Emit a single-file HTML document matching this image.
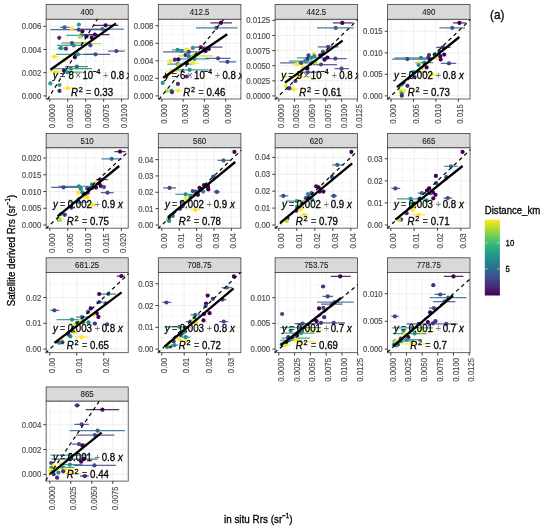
<!DOCTYPE html>
<html lang="en"><head><meta charset="utf-8"><title>Rrs matchups (a)</title>
<style>html,body{margin:0;padding:0;background:#fff}svg{display:block;will-change:transform}text{stroke-width:0.3px}text.k{stroke:#000}text.s{stroke:#1A1A1A;stroke-width:0.1px}text.g{stroke:#4D4D4D;stroke-width:0.18px}text.eq,text.sci{white-space:pre}</style></head>
<body>
<svg width="550" height="532" viewBox="0 0 550 532" font-family="Liberation Sans, Arial, sans-serif">
<defs><linearGradient id="vir" x1="0" y1="1" x2="0" y2="0">
<stop offset="0" stop-color="#440154"/>
<stop offset="0.11" stop-color="#482878"/>
<stop offset="0.22" stop-color="#3E4A89"/>
<stop offset="0.33" stop-color="#31688E"/>
<stop offset="0.44" stop-color="#26828E"/>
<stop offset="0.56" stop-color="#1F9E89"/>
<stop offset="0.67" stop-color="#35B779"/>
<stop offset="0.78" stop-color="#6DCD59"/>
<stop offset="0.89" stop-color="#B4DE2C"/>
<stop offset="1" stop-color="#FDE725"/>
</linearGradient>
<clipPath id="c0"><rect x="45.45" y="18.6" width="83.45" height="81.1"/></clipPath>
<clipPath id="c1"><rect x="157.6" y="18.6" width="84" height="81.1"/></clipPath>
<clipPath id="c2"><rect x="274.4" y="18.6" width="83.8" height="81.1"/></clipPath>
<clipPath id="c3"><rect x="386.9" y="18.6" width="83.8" height="81.1"/></clipPath>
<clipPath id="c4"><rect x="45.45" y="147.15" width="83.45" height="81.7"/></clipPath>
<clipPath id="c5"><rect x="157.6" y="147.15" width="84" height="81.7"/></clipPath>
<clipPath id="c6"><rect x="274.4" y="147.15" width="83.8" height="81.7"/></clipPath>
<clipPath id="c7"><rect x="386.9" y="147.15" width="83.8" height="81.7"/></clipPath>
<clipPath id="c8"><rect x="45.45" y="271.7" width="83.45" height="81.7"/></clipPath>
<clipPath id="c9"><rect x="157.6" y="271.7" width="84" height="81.7"/></clipPath>
<clipPath id="c10"><rect x="274.4" y="271.7" width="83.8" height="81.7"/></clipPath>
<clipPath id="c11"><rect x="386.9" y="271.7" width="83.8" height="81.7"/></clipPath>
<clipPath id="c12"><rect x="45.45" y="400.5" width="83.45" height="81.3"/></clipPath>
</defs>
<rect width="550" height="532" fill="#fff"/>
<rect x="46.15" y="4.5" width="82.05" height="14.8" fill="#D9D9D9" stroke="#333" stroke-width="0.75"/>
<text class="s" transform="translate(87.17 15.1) scale(0.9091 1)" font-size="8.69" fill="#1A1A1A" text-anchor="middle">400</text>
<rect x="46.15" y="19.3" width="82.05" height="79.7" fill="#fff"/>
<path d="M58.77 19.3V99" stroke="#EBEBEB" stroke-width="0.4"/><path d="M76.72 19.3V99" stroke="#EBEBEB" stroke-width="0.4"/><path d="M94.67 19.3V99" stroke="#EBEBEB" stroke-width="0.4"/><path d="M112.62 19.3V99" stroke="#EBEBEB" stroke-width="0.4"/><path d="M46.15 84.3H128.2" stroke="#EBEBEB" stroke-width="0.4"/><path d="M46.15 61.1H128.2" stroke="#EBEBEB" stroke-width="0.4"/><path d="M46.15 37.9H128.2" stroke="#EBEBEB" stroke-width="0.4"/><path d="M49.8 19.3V99" stroke="#EBEBEB" stroke-width="0.8"/><path d="M67.75 19.3V99" stroke="#EBEBEB" stroke-width="0.8"/><path d="M85.7 19.3V99" stroke="#EBEBEB" stroke-width="0.8"/><path d="M103.65 19.3V99" stroke="#EBEBEB" stroke-width="0.8"/><path d="M121.6 19.3V99" stroke="#EBEBEB" stroke-width="0.8"/><path d="M46.15 95.9H128.2" stroke="#EBEBEB" stroke-width="0.8"/><path d="M46.15 72.7H128.2" stroke="#EBEBEB" stroke-width="0.8"/><path d="M46.15 49.5H128.2" stroke="#EBEBEB" stroke-width="0.8"/><path d="M46.15 26.3H128.2" stroke="#EBEBEB" stroke-width="0.8"/>
<g clip-path="url(#c0)">
<path d="M60 27.4H69.6" stroke="#31688E" stroke-width="1.25" stroke-opacity="0.85"/>
<path d="M69.6 28.52H74.72" stroke="#FDE725" stroke-width="1.25" stroke-opacity="0.85"/>
<path d="M93.6 25.32H118.4" stroke="#440154" stroke-width="1.25" stroke-opacity="0.85"/>
<path d="M80.8 29H124" stroke="#31688E" stroke-width="1.25" stroke-opacity="0.85"/>
<path d="M50.4 29.64H108" stroke="#3E4A89" stroke-width="1.25" stroke-opacity="0.85"/>
<path d="M82.4 34.6H109.6" stroke="#440154" stroke-width="1.25" stroke-opacity="0.85"/>
<path d="M66.4 35.4H96.8" stroke="#21908C" stroke-width="1.25" stroke-opacity="0.85"/>
<path d="M61.6 43.08H84" stroke="#3E4A89" stroke-width="1.25" stroke-opacity="0.85"/>
<path d="M61.6 43.72H101.6" stroke="#B4DE2C" stroke-width="1.25" stroke-opacity="0.85"/>
<path d="M56.8 45.48H84" stroke="#21908C" stroke-width="1.25" stroke-opacity="0.85"/>
<path d="M57.6 48.2H64.8" stroke="#21908C" stroke-width="1.25" stroke-opacity="0.85"/>
<path d="M108 51.08H124.8" stroke="#3E4A89" stroke-width="1.25" stroke-opacity="0.85"/>
<path d="M51.2 56.68H58.4" stroke="#FDE725" stroke-width="1.25" stroke-opacity="0.85"/>
<path d="M56 54.28H96.8" stroke="#21908C" stroke-width="1.25" stroke-opacity="0.85"/>
<path d="M84 54.28H110.4" stroke="#3E4A89" stroke-width="1.25" stroke-opacity="0.85"/>
<path d="M66.88 69H87.84" stroke="#FDE725" stroke-width="1.25" stroke-opacity="0.85"/>
<path d="M64.8 66.6H88" stroke="#31688E" stroke-width="1.25" stroke-opacity="0.85"/>
<path d="M52 68.52H92" stroke="#21908C" stroke-width="1.25" stroke-opacity="0.85"/>
<path d="M50.08 71.4H62.4" stroke="#FDE725" stroke-width="1.25" stroke-opacity="0.85"/>
<path d="M67.2 72.2H82.4" stroke="#21908C" stroke-width="1.25" stroke-opacity="0.85"/>
<path d="M60.8 88.2H74.4" stroke="#FDE725" stroke-width="1.25" stroke-opacity="0.85"/>
<circle cx="64.48" cy="27.4" r="2.1" fill="#31688E"/>
<circle cx="72" cy="28.52" r="2.1" fill="#FDE725"/>
<circle cx="78.88" cy="24.52" r="2.1" fill="#1F9E89"/>
<circle cx="105.6" cy="25.32" r="2.1" fill="#440154"/>
<circle cx="102.4" cy="29" r="2.1" fill="#31688E"/>
<circle cx="78.72" cy="29.64" r="2.1" fill="#3E4A89"/>
<circle cx="82.4" cy="31.4" r="2.1" fill="#440154"/>
<circle cx="94.88" cy="34.6" r="2.1" fill="#440154"/>
<circle cx="81.12" cy="35.4" r="2.1" fill="#21908C"/>
<circle cx="59.2" cy="37.8" r="2.1" fill="#472D7B"/>
<circle cx="80" cy="37" r="2.1" fill="#B4DE2C"/>
<circle cx="86.4" cy="36.52" r="2.1" fill="#440154"/>
<circle cx="91.68" cy="37.8" r="2.1" fill="#440154"/>
<circle cx="72" cy="43.08" r="2.1" fill="#3E4A89"/>
<circle cx="85.92" cy="43.72" r="2.1" fill="#B4DE2C"/>
<circle cx="73.6" cy="45.48" r="2.1" fill="#21908C"/>
<circle cx="90.4" cy="45.32" r="2.1" fill="#3E4A89"/>
<circle cx="60.8" cy="48.2" r="2.1" fill="#21908C"/>
<circle cx="65.92" cy="48.68" r="2.1" fill="#453781"/>
<circle cx="116.32" cy="51.08" r="2.1" fill="#3E4A89"/>
<circle cx="54.4" cy="56.68" r="2.1" fill="#FDE725"/>
<circle cx="77.92" cy="54.28" r="2.1" fill="#21908C"/>
<circle cx="95.52" cy="54.28" r="2.1" fill="#3E4A89"/>
<circle cx="74.88" cy="57.32" r="2.1" fill="#440154"/>
<circle cx="64" cy="60.2" r="2.1" fill="#FDE725"/>
<circle cx="71.52" cy="69" r="2.1" fill="#FDE725"/>
<circle cx="76.8" cy="66.6" r="2.1" fill="#31688E"/>
<circle cx="70.88" cy="68.52" r="2.1" fill="#21908C"/>
<circle cx="64" cy="70.6" r="2.1" fill="#440154"/>
<circle cx="55.04" cy="71.4" r="2.1" fill="#FDE725"/>
<circle cx="67.2" cy="72.2" r="2.1" fill="#21908C"/>
<circle cx="50.4" cy="83.4" r="2.1" fill="#1F9E89"/>
<circle cx="59.52" cy="85" r="2.1" fill="#1F9E89"/>
<circle cx="59.52" cy="90.92" r="2.1" fill="#472D7B"/>
<circle cx="67.68" cy="88.2" r="2.1" fill="#FDE725"/>
<path d="M47.45 99.7L97.65 18.6" stroke="#000" stroke-width="1.2" stroke-dasharray="3.8 3.3" fill="none"/>
<path d="M50.4 69.8L116 23.4" stroke="#000" stroke-width="2.3" fill="none"/>
<text class="k eq" transform="translate(92.32 78.6) scale(0.9091 1)" font-size="10.67" fill="#000" text-anchor="middle"><tspan font-style="italic">y</tspan><tspan dx="-0.66" fill="#3a3a3a" stroke="none"> =</tspan><tspan dx="0.22"> 8</tspan><tspan dx="-1.43" fill="#555" stroke="none"> ×</tspan><tspan dx="-1.32"> 10</tspan><tspan font-size="7.59" dy="-4.5" dx="-0.77">−4</tspan><tspan dy="4.5" dx="0.11" fill="#777" stroke="none"> +</tspan><tspan dx="-0.77"> 0.8</tspan><tspan font-style="italic" dx="-0.11"> x</tspan></text>
<text class="k eq" transform="translate(92 95.53) scale(0.9091 1)" font-size="10.67" fill="#000" text-anchor="middle"><tspan font-style="italic">R</tspan><tspan font-size="8.03" dy="-3.3" dx="0.88">2</tspan><tspan dy="3.3" dx="0.44" fill="#3a3a3a" stroke="none"> =</tspan><tspan> 0.33</tspan></text>
</g>
<rect x="46.15" y="19.3" width="82.05" height="79.7" fill="none" stroke="#333" stroke-width="0.75"/>
<path d="M49.8 99v2.8" stroke="#333" stroke-width="0.95"/><text class="g" transform="translate(54.8 104.2) rotate(-90) scale(0.9091 1)" font-size="8.63" fill="#4D4D4D" text-anchor="end">0.0000</text><path d="M67.75 99v2.8" stroke="#333" stroke-width="0.95"/><text class="g" transform="translate(72.75 104.2) rotate(-90) scale(0.9091 1)" font-size="8.63" fill="#4D4D4D" text-anchor="end">0.0025</text><path d="M85.7 99v2.8" stroke="#333" stroke-width="0.95"/><text class="g" transform="translate(90.7 104.2) rotate(-90) scale(0.9091 1)" font-size="8.63" fill="#4D4D4D" text-anchor="end">0.0050</text><path d="M103.65 99v2.8" stroke="#333" stroke-width="0.95"/><text class="g" transform="translate(108.65 104.2) rotate(-90) scale(0.9091 1)" font-size="8.63" fill="#4D4D4D" text-anchor="end">0.0075</text><path d="M121.6 99v2.8" stroke="#333" stroke-width="0.95"/><text class="g" transform="translate(126.6 104.2) rotate(-90) scale(0.9091 1)" font-size="8.63" fill="#4D4D4D" text-anchor="end">0.0100</text><path d="M46.15 95.9h-2.8" stroke="#333" stroke-width="0.95"/><text class="g" transform="translate(41.25 98.9) scale(0.9091 1)" font-size="8.63" fill="#4D4D4D" text-anchor="end">0.000</text><path d="M46.15 72.7h-2.8" stroke="#333" stroke-width="0.95"/><text class="g" transform="translate(41.25 75.7) scale(0.9091 1)" font-size="8.63" fill="#4D4D4D" text-anchor="end">0.002</text><path d="M46.15 49.5h-2.8" stroke="#333" stroke-width="0.95"/><text class="g" transform="translate(41.25 52.5) scale(0.9091 1)" font-size="8.63" fill="#4D4D4D" text-anchor="end">0.004</text><path d="M46.15 26.3h-2.8" stroke="#333" stroke-width="0.95"/><text class="g" transform="translate(41.25 29.3) scale(0.9091 1)" font-size="8.63" fill="#4D4D4D" text-anchor="end">0.006</text>
<rect x="158.3" y="4.5" width="82.6" height="14.8" fill="#D9D9D9" stroke="#333" stroke-width="0.75"/>
<text class="s" transform="translate(199.6 15.1) scale(0.9091 1)" font-size="8.69" fill="#1A1A1A" text-anchor="middle">412.5</text>
<rect x="158.3" y="19.3" width="82.6" height="79.7" fill="#fff"/>
<path d="M172.45 19.3V99" stroke="#EBEBEB" stroke-width="0.4"/><path d="M193.75 19.3V99" stroke="#EBEBEB" stroke-width="0.4"/><path d="M215.05 19.3V99" stroke="#EBEBEB" stroke-width="0.4"/><path d="M236.35 19.3V99" stroke="#EBEBEB" stroke-width="0.4"/><path d="M158.3 87.12H240.9" stroke="#EBEBEB" stroke-width="0.4"/><path d="M158.3 69.58H240.9" stroke="#EBEBEB" stroke-width="0.4"/><path d="M158.3 52.03H240.9" stroke="#EBEBEB" stroke-width="0.4"/><path d="M158.3 34.48H240.9" stroke="#EBEBEB" stroke-width="0.4"/><path d="M161.8 19.3V99" stroke="#EBEBEB" stroke-width="0.8"/><path d="M183.1 19.3V99" stroke="#EBEBEB" stroke-width="0.8"/><path d="M204.4 19.3V99" stroke="#EBEBEB" stroke-width="0.8"/><path d="M225.7 19.3V99" stroke="#EBEBEB" stroke-width="0.8"/><path d="M158.3 95.9H240.9" stroke="#EBEBEB" stroke-width="0.8"/><path d="M158.3 78.35H240.9" stroke="#EBEBEB" stroke-width="0.8"/><path d="M158.3 60.8H240.9" stroke="#EBEBEB" stroke-width="0.8"/><path d="M158.3 43.25H240.9" stroke="#EBEBEB" stroke-width="0.8"/><path d="M158.3 25.7H240.9" stroke="#EBEBEB" stroke-width="0.8"/>
<g clip-path="url(#c1)">
<path d="M210.4 22.92H232" stroke="#440154" stroke-width="1.25" stroke-opacity="0.85"/>
<path d="M196 27.88H237.6" stroke="#31688E" stroke-width="1.25" stroke-opacity="0.85"/>
<path d="M194.4 47.08H222.4" stroke="#472D7B" stroke-width="1.25" stroke-opacity="0.85"/>
<path d="M172 49.8H184" stroke="#21908C" stroke-width="1.25" stroke-opacity="0.85"/>
<path d="M184 49.48H190.4" stroke="#FDE725" stroke-width="1.25" stroke-opacity="0.85"/>
<path d="M163.2 51.88H204" stroke="#3E4A89" stroke-width="1.25" stroke-opacity="0.85"/>
<path d="M178.4 55.88H212.8" stroke="#B4DE2C" stroke-width="1.25" stroke-opacity="0.85"/>
<path d="M180 58.92H208.8" stroke="#21908C" stroke-width="1.25" stroke-opacity="0.85"/>
<path d="M166.4 61H174.4" stroke="#FDE725" stroke-width="1.25" stroke-opacity="0.85"/>
<path d="M205.6 58.28H230.4" stroke="#3E4A89" stroke-width="1.25" stroke-opacity="0.85"/>
<path d="M219.2 61.8H236" stroke="#3E4A89" stroke-width="1.25" stroke-opacity="0.85"/>
<path d="M167.2 64.2H193.6" stroke="#21908C" stroke-width="1.25" stroke-opacity="0.85"/>
<path d="M186.4 63.08H199.2" stroke="#FDE725" stroke-width="1.25" stroke-opacity="0.85"/>
<path d="M170.4 69.8H208.8" stroke="#21908C" stroke-width="1.25" stroke-opacity="0.85"/>
<path d="M165.6 71.4H181.6" stroke="#FDE725" stroke-width="1.25" stroke-opacity="0.85"/>
<path d="M167.2 90.6H182.4" stroke="#FDE725" stroke-width="1.25" stroke-opacity="0.85"/>
<circle cx="220.8" cy="22.92" r="2.1" fill="#440154"/>
<circle cx="216.32" cy="27.88" r="2.1" fill="#31688E"/>
<circle cx="192.8" cy="47.88" r="2.1" fill="#1F9E89"/>
<circle cx="200.8" cy="47.08" r="2.1" fill="#472D7B"/>
<circle cx="177.6" cy="49.8" r="2.1" fill="#21908C"/>
<circle cx="186.4" cy="49.48" r="2.1" fill="#FDE725"/>
<circle cx="181.6" cy="50.92" r="2.1" fill="#21908C"/>
<circle cx="188.8" cy="51.88" r="2.1" fill="#3E4A89"/>
<circle cx="208.8" cy="49" r="2.1" fill="#440154"/>
<circle cx="205.6" cy="50.92" r="2.1" fill="#440154"/>
<circle cx="203.52" cy="49" r="2.1" fill="#472D7B"/>
<circle cx="185.6" cy="55.08" r="2.1" fill="#472D7B"/>
<circle cx="188.8" cy="56.2" r="2.1" fill="#21908C"/>
<circle cx="193.6" cy="55.88" r="2.1" fill="#B4DE2C"/>
<circle cx="196" cy="54.12" r="2.1" fill="#B4DE2C"/>
<circle cx="194.4" cy="58.92" r="2.1" fill="#21908C"/>
<circle cx="174.88" cy="59.72" r="2.1" fill="#472D7B"/>
<circle cx="178.4" cy="59.4" r="2.1" fill="#440154"/>
<circle cx="170.4" cy="61" r="2.1" fill="#FDE725"/>
<circle cx="218.08" cy="58.28" r="2.1" fill="#3E4A89"/>
<circle cx="227.52" cy="61.8" r="2.1" fill="#3E4A89"/>
<circle cx="186.72" cy="62.92" r="2.1" fill="#440154"/>
<circle cx="177.6" cy="64.2" r="2.1" fill="#21908C"/>
<circle cx="178.4" cy="65" r="2.1" fill="#B4DE2C"/>
<circle cx="192.8" cy="63.08" r="2.1" fill="#FDE725"/>
<circle cx="189.6" cy="69.8" r="2.1" fill="#21908C"/>
<circle cx="172" cy="71.4" r="2.1" fill="#FDE725"/>
<circle cx="186.72" cy="76.52" r="2.1" fill="#472D7B"/>
<circle cx="166.4" cy="76.52" r="2.1" fill="#B4DE2C"/>
<circle cx="162.72" cy="82.92" r="2.1" fill="#1F9E89"/>
<circle cx="177.92" cy="83.88" r="2.1" fill="#472D7B"/>
<circle cx="171.52" cy="90.92" r="2.1" fill="#1F9E89"/>
<circle cx="172" cy="92.2" r="2.1" fill="#472D7B"/>
<circle cx="166.88" cy="90.92" r="2.1" fill="#B4DE2C"/>
<circle cx="178.4" cy="90.6" r="2.1" fill="#FDE725"/>
<path d="M158.73 99.7L224.34 18.6" stroke="#000" stroke-width="1.2" stroke-dasharray="3.8 3.3" fill="none"/>
<path d="M163.2 77.8L227.2 34.28" stroke="#000" stroke-width="2.3" fill="none"/>
<text class="k eq" transform="translate(204 78.6) scale(0.9091 1)" font-size="10.67" fill="#000" text-anchor="middle"><tspan font-style="italic">y</tspan><tspan dx="-0.66" fill="#3a3a3a" stroke="none"> =</tspan><tspan dx="0.22"> 6</tspan><tspan dx="-1.43" fill="#555" stroke="none"> ×</tspan><tspan dx="-1.32"> 10</tspan><tspan font-size="7.59" dy="-4.5" dx="-0.77">−4</tspan><tspan dy="4.5" dx="0.11" fill="#777" stroke="none"> +</tspan><tspan dx="-0.77"> 0.8</tspan><tspan font-style="italic" dx="-0.11"> x</tspan></text>
<text class="k eq" transform="translate(204.32 95.53) scale(0.9091 1)" font-size="10.67" fill="#000" text-anchor="middle"><tspan font-style="italic">R</tspan><tspan font-size="8.03" dy="-3.3" dx="0.88">2</tspan><tspan dy="3.3" dx="0.44" fill="#3a3a3a" stroke="none"> =</tspan><tspan> 0.46</tspan></text>
</g>
<rect x="158.3" y="19.3" width="82.6" height="79.7" fill="none" stroke="#333" stroke-width="0.75"/>
<path d="M161.8 99v2.8" stroke="#333" stroke-width="0.95"/><text class="g" transform="translate(166.8 104.2) rotate(-90) scale(0.9091 1)" font-size="8.63" fill="#4D4D4D" text-anchor="end">0.000</text><path d="M183.1 99v2.8" stroke="#333" stroke-width="0.95"/><text class="g" transform="translate(188.1 104.2) rotate(-90) scale(0.9091 1)" font-size="8.63" fill="#4D4D4D" text-anchor="end">0.003</text><path d="M204.4 99v2.8" stroke="#333" stroke-width="0.95"/><text class="g" transform="translate(209.4 104.2) rotate(-90) scale(0.9091 1)" font-size="8.63" fill="#4D4D4D" text-anchor="end">0.006</text><path d="M225.7 99v2.8" stroke="#333" stroke-width="0.95"/><text class="g" transform="translate(230.7 104.2) rotate(-90) scale(0.9091 1)" font-size="8.63" fill="#4D4D4D" text-anchor="end">0.009</text><path d="M158.3 95.9h-2.8" stroke="#333" stroke-width="0.95"/><text class="g" transform="translate(153.4 98.9) scale(0.9091 1)" font-size="8.63" fill="#4D4D4D" text-anchor="end">0.000</text><path d="M158.3 78.35h-2.8" stroke="#333" stroke-width="0.95"/><text class="g" transform="translate(153.4 81.35) scale(0.9091 1)" font-size="8.63" fill="#4D4D4D" text-anchor="end">0.002</text><path d="M158.3 60.8h-2.8" stroke="#333" stroke-width="0.95"/><text class="g" transform="translate(153.4 63.8) scale(0.9091 1)" font-size="8.63" fill="#4D4D4D" text-anchor="end">0.004</text><path d="M158.3 43.25h-2.8" stroke="#333" stroke-width="0.95"/><text class="g" transform="translate(153.4 46.25) scale(0.9091 1)" font-size="8.63" fill="#4D4D4D" text-anchor="end">0.006</text><path d="M158.3 25.7h-2.8" stroke="#333" stroke-width="0.95"/><text class="g" transform="translate(153.4 28.7) scale(0.9091 1)" font-size="8.63" fill="#4D4D4D" text-anchor="end">0.008</text>
<rect x="275.1" y="4.5" width="82.4" height="14.8" fill="#D9D9D9" stroke="#333" stroke-width="0.75"/>
<text class="s" transform="translate(316.3 15.1) scale(0.9091 1)" font-size="8.69" fill="#1A1A1A" text-anchor="middle">442.5</text>
<rect x="275.1" y="19.3" width="82.4" height="79.7" fill="#fff"/>
<path d="M286.64 19.3V99" stroke="#EBEBEB" stroke-width="0.4"/><path d="M302.32 19.3V99" stroke="#EBEBEB" stroke-width="0.4"/><path d="M318 19.3V99" stroke="#EBEBEB" stroke-width="0.4"/><path d="M333.68 19.3V99" stroke="#EBEBEB" stroke-width="0.4"/><path d="M349.36 19.3V99" stroke="#EBEBEB" stroke-width="0.4"/><path d="M275.1 88.35H357.5" stroke="#EBEBEB" stroke-width="0.4"/><path d="M275.1 73.25H357.5" stroke="#EBEBEB" stroke-width="0.4"/><path d="M275.1 58.15H357.5" stroke="#EBEBEB" stroke-width="0.4"/><path d="M275.1 43.05H357.5" stroke="#EBEBEB" stroke-width="0.4"/><path d="M275.1 27.95H357.5" stroke="#EBEBEB" stroke-width="0.4"/><path d="M278.8 19.3V99" stroke="#EBEBEB" stroke-width="0.8"/><path d="M294.48 19.3V99" stroke="#EBEBEB" stroke-width="0.8"/><path d="M310.16 19.3V99" stroke="#EBEBEB" stroke-width="0.8"/><path d="M325.84 19.3V99" stroke="#EBEBEB" stroke-width="0.8"/><path d="M341.52 19.3V99" stroke="#EBEBEB" stroke-width="0.8"/><path d="M357.2 19.3V99" stroke="#EBEBEB" stroke-width="0.8"/><path d="M275.1 95.9H357.5" stroke="#EBEBEB" stroke-width="0.8"/><path d="M275.1 80.8H357.5" stroke="#EBEBEB" stroke-width="0.8"/><path d="M275.1 65.7H357.5" stroke="#EBEBEB" stroke-width="0.8"/><path d="M275.1 50.6H357.5" stroke="#EBEBEB" stroke-width="0.8"/><path d="M275.1 35.5H357.5" stroke="#EBEBEB" stroke-width="0.8"/><path d="M275.1 20.4H357.5" stroke="#EBEBEB" stroke-width="0.8"/>
<g clip-path="url(#c2)">
<path d="M333 22.92H353" stroke="#440154" stroke-width="1.25" stroke-opacity="0.85"/>
<path d="M317 27.88H353.8" stroke="#31688E" stroke-width="1.25" stroke-opacity="0.85"/>
<path d="M317.8 46.92H338.6" stroke="#3E4A89" stroke-width="1.25" stroke-opacity="0.85"/>
<path d="M297 57.8H325.8" stroke="#21908C" stroke-width="1.25" stroke-opacity="0.85"/>
<path d="M325.8 58.6H346.6" stroke="#3E4A89" stroke-width="1.25" stroke-opacity="0.85"/>
<path d="M280.2 62.92H313" stroke="#3E4A89" stroke-width="1.25" stroke-opacity="0.85"/>
<path d="M292.2 64.2H305" stroke="#FDE725" stroke-width="1.25" stroke-opacity="0.85"/>
<path d="M313 64.52H337" stroke="#3E4A89" stroke-width="1.25" stroke-opacity="0.85"/>
<path d="M289 61H314.6" stroke="#21908C" stroke-width="1.25" stroke-opacity="0.85"/>
<path d="M297 72.2H319.4" stroke="#3E4A89" stroke-width="1.25" stroke-opacity="0.85"/>
<path d="M334.6 68.68H349" stroke="#3E4A89" stroke-width="1.25" stroke-opacity="0.85"/>
<path d="M282.6 76.52H313" stroke="#FDE725" stroke-width="1.25" stroke-opacity="0.85"/>
<path d="M290.6 89.32H298.6" stroke="#FDE725" stroke-width="1.25" stroke-opacity="0.85"/>
<circle cx="342.28" cy="22.92" r="2.1" fill="#440154"/>
<circle cx="335.72" cy="27.88" r="2.1" fill="#31688E"/>
<circle cx="328.2" cy="46.92" r="2.1" fill="#3E4A89"/>
<circle cx="322.92" cy="51.88" r="2.1" fill="#3E4A89"/>
<circle cx="313.8" cy="53.8" r="2.1" fill="#FDE725"/>
<circle cx="308.52" cy="55.4" r="2.1" fill="#3E4A89"/>
<circle cx="314.28" cy="56.2" r="2.1" fill="#21908C"/>
<circle cx="320.2" cy="55.4" r="2.1" fill="#440154"/>
<circle cx="311.4" cy="57.8" r="2.1" fill="#21908C"/>
<circle cx="327.4" cy="57.48" r="2.1" fill="#440154"/>
<circle cx="324.52" cy="59.72" r="2.1" fill="#440154"/>
<circle cx="335.4" cy="58.6" r="2.1" fill="#3E4A89"/>
<circle cx="307.4" cy="58.92" r="2.1" fill="#472D7B"/>
<circle cx="315.4" cy="62.6" r="2.1" fill="#B4DE2C"/>
<circle cx="301" cy="62.92" r="2.1" fill="#3E4A89"/>
<circle cx="297" cy="64.2" r="2.1" fill="#FDE725"/>
<circle cx="321" cy="64.52" r="2.1" fill="#3E4A89"/>
<circle cx="305" cy="61" r="2.1" fill="#21908C"/>
<circle cx="302.6" cy="67.88" r="2.1" fill="#FDE725"/>
<circle cx="307.4" cy="68.2" r="2.1" fill="#440154"/>
<circle cx="307.72" cy="72.2" r="2.1" fill="#3E4A89"/>
<circle cx="341.48" cy="68.68" r="2.1" fill="#3E4A89"/>
<circle cx="298.6" cy="76.52" r="2.1" fill="#FDE725"/>
<circle cx="295.4" cy="81" r="2.1" fill="#472D7B"/>
<circle cx="285.8" cy="86.12" r="2.1" fill="#FDE725"/>
<circle cx="288.52" cy="88.52" r="2.1" fill="#1F9E89"/>
<circle cx="289.48" cy="88.2" r="2.1" fill="#472D7B"/>
<circle cx="293.48" cy="89.32" r="2.1" fill="#FDE725"/>
<path d="M274.85 99.7L358.2 19.44" stroke="#000" stroke-width="1.2" stroke-dasharray="3.8 3.3" fill="none"/>
<path d="M285 82.6L342.6 40.68" stroke="#000" stroke-width="2.3" fill="none"/>
<text class="k eq" transform="translate(320.68 78.6) scale(0.9091 1)" font-size="10.67" fill="#000" text-anchor="middle"><tspan font-style="italic">y</tspan><tspan dx="-0.66" fill="#3a3a3a" stroke="none"> =</tspan><tspan dx="0.22"> 9</tspan><tspan dx="-1.43" fill="#555" stroke="none"> ×</tspan><tspan dx="-1.32"> 10</tspan><tspan font-size="7.59" dy="-4.5" dx="-0.77">−4</tspan><tspan dy="4.5" dx="0.11" fill="#777" stroke="none"> +</tspan><tspan dx="-0.77"> 0.8</tspan><tspan font-style="italic" dx="-0.11"> x</tspan></text>
<text class="k eq" transform="translate(320.36 95.53) scale(0.9091 1)" font-size="10.67" fill="#000" text-anchor="middle"><tspan font-style="italic">R</tspan><tspan font-size="8.03" dy="-3.3" dx="0.88">2</tspan><tspan dy="3.3" dx="0.44" fill="#3a3a3a" stroke="none"> =</tspan><tspan> 0.61</tspan></text>
</g>
<rect x="275.1" y="19.3" width="82.4" height="79.7" fill="none" stroke="#333" stroke-width="0.75"/>
<path d="M278.8 99v2.8" stroke="#333" stroke-width="0.95"/><text class="g" transform="translate(283.8 104.2) rotate(-90) scale(0.9091 1)" font-size="8.63" fill="#4D4D4D" text-anchor="end">0.0000</text><path d="M294.48 99v2.8" stroke="#333" stroke-width="0.95"/><text class="g" transform="translate(299.48 104.2) rotate(-90) scale(0.9091 1)" font-size="8.63" fill="#4D4D4D" text-anchor="end">0.0025</text><path d="M310.16 99v2.8" stroke="#333" stroke-width="0.95"/><text class="g" transform="translate(315.16 104.2) rotate(-90) scale(0.9091 1)" font-size="8.63" fill="#4D4D4D" text-anchor="end">0.0050</text><path d="M325.84 99v2.8" stroke="#333" stroke-width="0.95"/><text class="g" transform="translate(330.84 104.2) rotate(-90) scale(0.9091 1)" font-size="8.63" fill="#4D4D4D" text-anchor="end">0.0075</text><path d="M341.52 99v2.8" stroke="#333" stroke-width="0.95"/><text class="g" transform="translate(346.52 104.2) rotate(-90) scale(0.9091 1)" font-size="8.63" fill="#4D4D4D" text-anchor="end">0.0100</text><path d="M357.2 99v2.8" stroke="#333" stroke-width="0.95"/><text class="g" transform="translate(362.2 104.2) rotate(-90) scale(0.9091 1)" font-size="8.63" fill="#4D4D4D" text-anchor="end">0.0125</text><path d="M275.1 95.9h-2.8" stroke="#333" stroke-width="0.95"/><text class="g" transform="translate(270.2 98.9) scale(0.9091 1)" font-size="8.63" fill="#4D4D4D" text-anchor="end">0.0000</text><path d="M275.1 80.8h-2.8" stroke="#333" stroke-width="0.95"/><text class="g" transform="translate(270.2 83.8) scale(0.9091 1)" font-size="8.63" fill="#4D4D4D" text-anchor="end">0.0025</text><path d="M275.1 65.7h-2.8" stroke="#333" stroke-width="0.95"/><text class="g" transform="translate(270.2 68.7) scale(0.9091 1)" font-size="8.63" fill="#4D4D4D" text-anchor="end">0.0050</text><path d="M275.1 50.6h-2.8" stroke="#333" stroke-width="0.95"/><text class="g" transform="translate(270.2 53.6) scale(0.9091 1)" font-size="8.63" fill="#4D4D4D" text-anchor="end">0.0075</text><path d="M275.1 35.5h-2.8" stroke="#333" stroke-width="0.95"/><text class="g" transform="translate(270.2 38.5) scale(0.9091 1)" font-size="8.63" fill="#4D4D4D" text-anchor="end">0.0100</text><path d="M275.1 20.4h-2.8" stroke="#333" stroke-width="0.95"/><text class="g" transform="translate(270.2 23.4) scale(0.9091 1)" font-size="8.63" fill="#4D4D4D" text-anchor="end">0.0125</text>
<rect x="387.6" y="4.5" width="82.4" height="14.8" fill="#D9D9D9" stroke="#333" stroke-width="0.75"/>
<text class="s" transform="translate(428.8 15.1) scale(0.9091 1)" font-size="8.69" fill="#1A1A1A" text-anchor="middle">490</text>
<rect x="387.6" y="19.3" width="82.4" height="79.7" fill="#fff"/>
<path d="M402.3 19.3V99" stroke="#EBEBEB" stroke-width="0.4"/><path d="M424.7 19.3V99" stroke="#EBEBEB" stroke-width="0.4"/><path d="M447.1 19.3V99" stroke="#EBEBEB" stroke-width="0.4"/><path d="M387.6 85.12H470" stroke="#EBEBEB" stroke-width="0.4"/><path d="M387.6 63.58H470" stroke="#EBEBEB" stroke-width="0.4"/><path d="M387.6 42.03H470" stroke="#EBEBEB" stroke-width="0.4"/><path d="M387.6 20.48H470" stroke="#EBEBEB" stroke-width="0.4"/><path d="M391.1 19.3V99" stroke="#EBEBEB" stroke-width="0.8"/><path d="M413.5 19.3V99" stroke="#EBEBEB" stroke-width="0.8"/><path d="M435.9 19.3V99" stroke="#EBEBEB" stroke-width="0.8"/><path d="M458.3 19.3V99" stroke="#EBEBEB" stroke-width="0.8"/><path d="M387.6 95.9H470" stroke="#EBEBEB" stroke-width="0.8"/><path d="M387.6 74.35H470" stroke="#EBEBEB" stroke-width="0.8"/><path d="M387.6 52.8H470" stroke="#EBEBEB" stroke-width="0.8"/><path d="M387.6 31.25H470" stroke="#EBEBEB" stroke-width="0.8"/>
<g clip-path="url(#c3)">
<path d="M453 22.92H465.8" stroke="#440154" stroke-width="1.25" stroke-opacity="0.85"/>
<path d="M439.4 27.88H465" stroke="#31688E" stroke-width="1.25" stroke-opacity="0.85"/>
<path d="M436.2 47.4H450.6" stroke="#472D7B" stroke-width="1.25" stroke-opacity="0.85"/>
<path d="M394.6 57.8H437.8" stroke="#21908C" stroke-width="1.25" stroke-opacity="0.85"/>
<path d="M392.2 59.08H426.6" stroke="#3E4A89" stroke-width="1.25" stroke-opacity="0.85"/>
<path d="M415.4 62.6H433" stroke="#21908C" stroke-width="1.25" stroke-opacity="0.85"/>
<path d="M441 63.4H456.2" stroke="#3E4A89" stroke-width="1.25" stroke-opacity="0.85"/>
<path d="M425 74.6H437.8" stroke="#FDE725" stroke-width="1.25" stroke-opacity="0.85"/>
<path d="M409 72.2H426.6" stroke="#21908C" stroke-width="1.25" stroke-opacity="0.85"/>
<circle cx="459.4" cy="22.92" r="2.1" fill="#440154"/>
<circle cx="452.2" cy="27.88" r="2.1" fill="#31688E"/>
<circle cx="442.92" cy="47.4" r="2.1" fill="#472D7B"/>
<circle cx="439.4" cy="51.4" r="2.1" fill="#3E4A89"/>
<circle cx="434.6" cy="54.28" r="2.1" fill="#21908C"/>
<circle cx="429" cy="55.08" r="2.1" fill="#472D7B"/>
<circle cx="444.2" cy="54.6" r="2.1" fill="#440154"/>
<circle cx="440.2" cy="56.2" r="2.1" fill="#440154"/>
<circle cx="421" cy="57.8" r="2.1" fill="#21908C"/>
<circle cx="407.4" cy="59.08" r="2.1" fill="#3E4A89"/>
<circle cx="436.2" cy="57.8" r="2.1" fill="#FDE725"/>
<circle cx="440.68" cy="59.4" r="2.1" fill="#440154"/>
<circle cx="428.2" cy="57.8" r="2.1" fill="#472D7B"/>
<circle cx="418.28" cy="63.4" r="2.1" fill="#FDE725"/>
<circle cx="424.2" cy="62.6" r="2.1" fill="#21908C"/>
<circle cx="449" cy="63.4" r="2.1" fill="#3E4A89"/>
<circle cx="418.6" cy="65" r="2.1" fill="#21908C"/>
<circle cx="426.6" cy="67.4" r="2.1" fill="#440154"/>
<circle cx="422.6" cy="68.2" r="2.1" fill="#FDE725"/>
<circle cx="414.6" cy="77" r="2.1" fill="#472D7B"/>
<circle cx="431.4" cy="74.6" r="2.1" fill="#FDE725"/>
<circle cx="413.8" cy="72.2" r="2.1" fill="#21908C"/>
<circle cx="407.4" cy="85.8" r="2.1" fill="#472D7B"/>
<circle cx="401" cy="85" r="2.1" fill="#1F9E89"/>
<circle cx="400.2" cy="90.6" r="2.1" fill="#FDE725"/>
<circle cx="401" cy="91.88" r="2.1" fill="#B4DE2C"/>
<circle cx="401.8" cy="93.48" r="2.1" fill="#21908C"/>
<circle cx="401.8" cy="95.72" r="2.1" fill="#472D7B"/>
<circle cx="404.2" cy="90.6" r="2.1" fill="#FDE725"/>
<path d="M387.15 99.7L470.7 19.32" stroke="#000" stroke-width="1.2" stroke-dasharray="3.8 3.3" fill="none"/>
<path d="M397 87.08L459.4 37" stroke="#000" stroke-width="2.3" fill="none"/>
<text class="k eq" transform="translate(428.84 78.6) scale(0.9091 1)" font-size="10.67" fill="#000" text-anchor="middle"><tspan font-style="italic">y</tspan><tspan dx="-0.88" fill="#3a3a3a" stroke="none"> =</tspan><tspan dx="-0.33"> 0.002</tspan><tspan dx="-0.22" fill="#777" stroke="none"> +</tspan><tspan dx="-1.21"> 0.8</tspan><tspan font-style="italic"> x</tspan></text>
<text class="k eq" transform="translate(428.84 95.53) scale(0.9091 1)" font-size="10.67" fill="#000" text-anchor="middle"><tspan font-style="italic">R</tspan><tspan font-size="8.03" dy="-3.3" dx="0.88">2</tspan><tspan dy="3.3" dx="0.44" fill="#3a3a3a" stroke="none"> =</tspan><tspan> 0.73</tspan></text>
</g>
<rect x="387.6" y="19.3" width="82.4" height="79.7" fill="none" stroke="#333" stroke-width="0.75"/>
<path d="M391.1 99v2.8" stroke="#333" stroke-width="0.95"/><text class="g" transform="translate(396.1 104.2) rotate(-90) scale(0.9091 1)" font-size="8.63" fill="#4D4D4D" text-anchor="end">0.000</text><path d="M413.5 99v2.8" stroke="#333" stroke-width="0.95"/><text class="g" transform="translate(418.5 104.2) rotate(-90) scale(0.9091 1)" font-size="8.63" fill="#4D4D4D" text-anchor="end">0.005</text><path d="M435.9 99v2.8" stroke="#333" stroke-width="0.95"/><text class="g" transform="translate(440.9 104.2) rotate(-90) scale(0.9091 1)" font-size="8.63" fill="#4D4D4D" text-anchor="end">0.010</text><path d="M458.3 99v2.8" stroke="#333" stroke-width="0.95"/><text class="g" transform="translate(463.3 104.2) rotate(-90) scale(0.9091 1)" font-size="8.63" fill="#4D4D4D" text-anchor="end">0.015</text><path d="M387.6 95.9h-2.8" stroke="#333" stroke-width="0.95"/><text class="g" transform="translate(382.7 98.9) scale(0.9091 1)" font-size="8.63" fill="#4D4D4D" text-anchor="end">0.000</text><path d="M387.6 74.35h-2.8" stroke="#333" stroke-width="0.95"/><text class="g" transform="translate(382.7 77.35) scale(0.9091 1)" font-size="8.63" fill="#4D4D4D" text-anchor="end">0.005</text><path d="M387.6 52.8h-2.8" stroke="#333" stroke-width="0.95"/><text class="g" transform="translate(382.7 55.8) scale(0.9091 1)" font-size="8.63" fill="#4D4D4D" text-anchor="end">0.010</text><path d="M387.6 31.25h-2.8" stroke="#333" stroke-width="0.95"/><text class="g" transform="translate(382.7 34.25) scale(0.9091 1)" font-size="8.63" fill="#4D4D4D" text-anchor="end">0.015</text>
<rect x="46.15" y="133.5" width="82.05" height="14.35" fill="#D9D9D9" stroke="#333" stroke-width="0.75"/>
<text class="s" transform="translate(87.17 143.88) scale(0.9091 1)" font-size="8.69" fill="#1A1A1A" text-anchor="middle">510</text>
<rect x="46.15" y="147.85" width="82.05" height="80.3" fill="#fff"/>
<path d="M58.75 147.85V228.15" stroke="#EBEBEB" stroke-width="0.4"/><path d="M76.65 147.85V228.15" stroke="#EBEBEB" stroke-width="0.4"/><path d="M94.55 147.85V228.15" stroke="#EBEBEB" stroke-width="0.4"/><path d="M112.45 147.85V228.15" stroke="#EBEBEB" stroke-width="0.4"/><path d="M46.15 216.62H128.2" stroke="#EBEBEB" stroke-width="0.4"/><path d="M46.15 199.88H128.2" stroke="#EBEBEB" stroke-width="0.4"/><path d="M46.15 183.12H128.2" stroke="#EBEBEB" stroke-width="0.4"/><path d="M46.15 166.38H128.2" stroke="#EBEBEB" stroke-width="0.4"/><path d="M46.15 149.62H128.2" stroke="#EBEBEB" stroke-width="0.4"/><path d="M49.8 147.85V228.15" stroke="#EBEBEB" stroke-width="0.8"/><path d="M67.7 147.85V228.15" stroke="#EBEBEB" stroke-width="0.8"/><path d="M85.6 147.85V228.15" stroke="#EBEBEB" stroke-width="0.8"/><path d="M103.5 147.85V228.15" stroke="#EBEBEB" stroke-width="0.8"/><path d="M121.4 147.85V228.15" stroke="#EBEBEB" stroke-width="0.8"/><path d="M46.15 225H128.2" stroke="#EBEBEB" stroke-width="0.8"/><path d="M46.15 208.25H128.2" stroke="#EBEBEB" stroke-width="0.8"/><path d="M46.15 191.5H128.2" stroke="#EBEBEB" stroke-width="0.8"/><path d="M46.15 174.75H128.2" stroke="#EBEBEB" stroke-width="0.8"/><path d="M46.15 158H128.2" stroke="#EBEBEB" stroke-width="0.8"/>
<g clip-path="url(#c4)">
<path d="M114.4 151.6H125.6" stroke="#440154" stroke-width="1.25" stroke-opacity="0.85"/>
<path d="M101.6 158.8H121.6" stroke="#31688E" stroke-width="1.25" stroke-opacity="0.85"/>
<path d="M96 179.6H108" stroke="#472D7B" stroke-width="1.25" stroke-opacity="0.85"/>
<path d="M58.4 186.32H92" stroke="#21908C" stroke-width="1.25" stroke-opacity="0.85"/>
<path d="M51.2 187.28H82.4" stroke="#3E4A89" stroke-width="1.25" stroke-opacity="0.85"/>
<path d="M100.8 192.72H113.6" stroke="#3E4A89" stroke-width="1.25" stroke-opacity="0.85"/>
<path d="M87.2 205.2H96.8" stroke="#FDE725" stroke-width="1.25" stroke-opacity="0.85"/>
<path d="M68 202H88.8" stroke="#21908C" stroke-width="1.25" stroke-opacity="0.85"/>
<circle cx="120" cy="151.6" r="2.1" fill="#440154"/>
<circle cx="111.68" cy="158.8" r="2.1" fill="#31688E"/>
<circle cx="100" cy="179.6" r="2.1" fill="#472D7B"/>
<circle cx="96" cy="182.8" r="2.1" fill="#FDE725"/>
<circle cx="99.2" cy="183.6" r="2.1" fill="#440154"/>
<circle cx="92" cy="184.4" r="2.1" fill="#21908C"/>
<circle cx="100.8" cy="186" r="2.1" fill="#440154"/>
<circle cx="104" cy="187.12" r="2.1" fill="#3E4A89"/>
<circle cx="96" cy="187.6" r="2.1" fill="#440154"/>
<circle cx="78.88" cy="186.32" r="2.1" fill="#21908C"/>
<circle cx="63.52" cy="187.28" r="2.1" fill="#3E4A89"/>
<circle cx="80.8" cy="188.88" r="2.1" fill="#21908C"/>
<circle cx="87.2" cy="188.4" r="2.1" fill="#3E4A89"/>
<circle cx="92" cy="187.92" r="2.1" fill="#472D7B"/>
<circle cx="77.92" cy="192.72" r="2.1" fill="#FDE725"/>
<circle cx="82.4" cy="192.4" r="2.1" fill="#21908C"/>
<circle cx="87.68" cy="192.72" r="2.1" fill="#472D7B"/>
<circle cx="107.52" cy="192.72" r="2.1" fill="#3E4A89"/>
<circle cx="84.8" cy="195.6" r="2.1" fill="#440154"/>
<circle cx="84" cy="196.4" r="2.1" fill="#FDE725"/>
<circle cx="87.52" cy="197.52" r="2.1" fill="#FDE725"/>
<circle cx="92" cy="205.2" r="2.1" fill="#FDE725"/>
<circle cx="71.52" cy="207.6" r="2.1" fill="#472D7B"/>
<circle cx="78.4" cy="202" r="2.1" fill="#21908C"/>
<circle cx="60.8" cy="214" r="2.1" fill="#1F9E89"/>
<circle cx="64.8" cy="214.8" r="2.1" fill="#472D7B"/>
<circle cx="59.2" cy="218.48" r="2.1" fill="#FDE725"/>
<circle cx="58.72" cy="219.6" r="2.1" fill="#21908C"/>
<circle cx="60" cy="219.92" r="2.1" fill="#B4DE2C"/>
<path d="M45.69 228.85L128.9 150.98" stroke="#000" stroke-width="1.2" stroke-dasharray="3.8 3.3" fill="none"/>
<path d="M57.6 216.4L119.2 166" stroke="#000" stroke-width="2.3" fill="none"/>
<text class="k eq" transform="translate(87.84 207.6) scale(0.9091 1)" font-size="10.67" fill="#000" text-anchor="middle"><tspan font-style="italic">y</tspan><tspan dx="-0.88" fill="#3a3a3a" stroke="none"> =</tspan><tspan dx="-0.33"> 0.002</tspan><tspan dx="-0.22" fill="#777" stroke="none"> +</tspan><tspan dx="-1.21"> 0.9</tspan><tspan font-style="italic"> x</tspan></text>
<text class="k eq" transform="translate(87.84 224.53) scale(0.9091 1)" font-size="10.67" fill="#000" text-anchor="middle"><tspan font-style="italic">R</tspan><tspan font-size="8.03" dy="-3.3" dx="0.88">2</tspan><tspan dy="3.3" dx="0.44" fill="#3a3a3a" stroke="none"> =</tspan><tspan> 0.75</tspan></text>
</g>
<rect x="46.15" y="147.85" width="82.05" height="80.3" fill="none" stroke="#333" stroke-width="0.75"/>
<path d="M49.8 228.15v2.8" stroke="#333" stroke-width="0.95"/><text class="g" transform="translate(54.8 233.35) rotate(-90) scale(0.9091 1)" font-size="8.63" fill="#4D4D4D" text-anchor="end">0.000</text><path d="M67.7 228.15v2.8" stroke="#333" stroke-width="0.95"/><text class="g" transform="translate(72.7 233.35) rotate(-90) scale(0.9091 1)" font-size="8.63" fill="#4D4D4D" text-anchor="end">0.005</text><path d="M85.6 228.15v2.8" stroke="#333" stroke-width="0.95"/><text class="g" transform="translate(90.6 233.35) rotate(-90) scale(0.9091 1)" font-size="8.63" fill="#4D4D4D" text-anchor="end">0.010</text><path d="M103.5 228.15v2.8" stroke="#333" stroke-width="0.95"/><text class="g" transform="translate(108.5 233.35) rotate(-90) scale(0.9091 1)" font-size="8.63" fill="#4D4D4D" text-anchor="end">0.015</text><path d="M121.4 228.15v2.8" stroke="#333" stroke-width="0.95"/><text class="g" transform="translate(126.4 233.35) rotate(-90) scale(0.9091 1)" font-size="8.63" fill="#4D4D4D" text-anchor="end">0.020</text><path d="M46.15 225h-2.8" stroke="#333" stroke-width="0.95"/><text class="g" transform="translate(41.25 228) scale(0.9091 1)" font-size="8.63" fill="#4D4D4D" text-anchor="end">0.000</text><path d="M46.15 208.25h-2.8" stroke="#333" stroke-width="0.95"/><text class="g" transform="translate(41.25 211.25) scale(0.9091 1)" font-size="8.63" fill="#4D4D4D" text-anchor="end">0.005</text><path d="M46.15 191.5h-2.8" stroke="#333" stroke-width="0.95"/><text class="g" transform="translate(41.25 194.5) scale(0.9091 1)" font-size="8.63" fill="#4D4D4D" text-anchor="end">0.010</text><path d="M46.15 174.75h-2.8" stroke="#333" stroke-width="0.95"/><text class="g" transform="translate(41.25 177.75) scale(0.9091 1)" font-size="8.63" fill="#4D4D4D" text-anchor="end">0.015</text><path d="M46.15 158h-2.8" stroke="#333" stroke-width="0.95"/><text class="g" transform="translate(41.25 161) scale(0.9091 1)" font-size="8.63" fill="#4D4D4D" text-anchor="end">0.020</text>
<rect x="158.3" y="133.5" width="82.6" height="14.35" fill="#D9D9D9" stroke="#333" stroke-width="0.75"/>
<text class="s" transform="translate(199.6 143.88) scale(0.9091 1)" font-size="8.69" fill="#1A1A1A" text-anchor="middle">560</text>
<rect x="158.3" y="147.85" width="82.6" height="80.3" fill="#fff"/>
<path d="M170.5 147.85V228.15" stroke="#EBEBEB" stroke-width="0.4"/><path d="M187.9 147.85V228.15" stroke="#EBEBEB" stroke-width="0.4"/><path d="M205.3 147.85V228.15" stroke="#EBEBEB" stroke-width="0.4"/><path d="M222.7 147.85V228.15" stroke="#EBEBEB" stroke-width="0.4"/><path d="M240.1 147.85V228.15" stroke="#EBEBEB" stroke-width="0.4"/><path d="M158.3 216.82H240.9" stroke="#EBEBEB" stroke-width="0.4"/><path d="M158.3 200.48H240.9" stroke="#EBEBEB" stroke-width="0.4"/><path d="M158.3 184.12H240.9" stroke="#EBEBEB" stroke-width="0.4"/><path d="M158.3 167.77H240.9" stroke="#EBEBEB" stroke-width="0.4"/><path d="M158.3 151.43H240.9" stroke="#EBEBEB" stroke-width="0.4"/><path d="M161.8 147.85V228.15" stroke="#EBEBEB" stroke-width="0.8"/><path d="M179.2 147.85V228.15" stroke="#EBEBEB" stroke-width="0.8"/><path d="M196.6 147.85V228.15" stroke="#EBEBEB" stroke-width="0.8"/><path d="M214 147.85V228.15" stroke="#EBEBEB" stroke-width="0.8"/><path d="M231.4 147.85V228.15" stroke="#EBEBEB" stroke-width="0.8"/><path d="M158.3 225H240.9" stroke="#EBEBEB" stroke-width="0.8"/><path d="M158.3 208.65H240.9" stroke="#EBEBEB" stroke-width="0.8"/><path d="M158.3 192.3H240.9" stroke="#EBEBEB" stroke-width="0.8"/><path d="M158.3 175.95H240.9" stroke="#EBEBEB" stroke-width="0.8"/><path d="M158.3 159.6H240.9" stroke="#EBEBEB" stroke-width="0.8"/>
<g clip-path="url(#c5)">
<path d="M217.6 160.4H230.4" stroke="#31688E" stroke-width="1.25" stroke-opacity="0.85"/>
<path d="M163.2 187.92H176" stroke="#3E4A89" stroke-width="1.25" stroke-opacity="0.85"/>
<path d="M213.6 191.92H220" stroke="#3E4A89" stroke-width="1.25" stroke-opacity="0.85"/>
<path d="M175.2 194.32H196" stroke="#21908C" stroke-width="1.25" stroke-opacity="0.85"/>
<path d="M190.4 210H200" stroke="#FDE725" stroke-width="1.25" stroke-opacity="0.85"/>
<circle cx="234.4" cy="151.92" r="2.1" fill="#440154"/>
<circle cx="223.52" cy="160.4" r="2.1" fill="#31688E"/>
<circle cx="213.28" cy="176.72" r="2.1" fill="#3E4A89"/>
<circle cx="204" cy="185.2" r="2.1" fill="#440154"/>
<circle cx="208" cy="186" r="2.1" fill="#440154"/>
<circle cx="208" cy="187.92" r="2.1" fill="#440154"/>
<circle cx="208.32" cy="189.52" r="2.1" fill="#440154"/>
<circle cx="199.52" cy="187.92" r="2.1" fill="#440154"/>
<circle cx="169.6" cy="187.92" r="2.1" fill="#3E4A89"/>
<circle cx="216.8" cy="191.92" r="2.1" fill="#3E4A89"/>
<circle cx="192.8" cy="191.12" r="2.1" fill="#3E4A89"/>
<circle cx="196" cy="191.6" r="2.1" fill="#3E4A89"/>
<circle cx="203.2" cy="191.6" r="2.1" fill="#21908C"/>
<circle cx="185.6" cy="194.32" r="2.1" fill="#21908C"/>
<circle cx="197.92" cy="194.8" r="2.1" fill="#440154"/>
<circle cx="190.4" cy="196.4" r="2.1" fill="#21908C"/>
<circle cx="186.08" cy="198.32" r="2.1" fill="#FDE725"/>
<circle cx="181.6" cy="202" r="2.1" fill="#21908C"/>
<circle cx="180" cy="208.72" r="2.1" fill="#472D7B"/>
<circle cx="195.2" cy="210" r="2.1" fill="#FDE725"/>
<circle cx="172.8" cy="215.92" r="2.1" fill="#31688E"/>
<circle cx="168.8" cy="218.8" r="2.1" fill="#472D7B"/>
<circle cx="168" cy="219.92" r="2.1" fill="#B4DE2C"/>
<circle cx="169.12" cy="220.88" r="2.1" fill="#21908C"/>
<circle cx="200" cy="190" r="2.1" fill="#472D7B"/>
<circle cx="196.8" cy="193.2" r="2.1" fill="#472D7B"/>
<path d="M157.7 228.85L241.6 150.02" stroke="#000" stroke-width="1.2" stroke-dasharray="3.8 3.3" fill="none"/>
<path d="M168 217.2L235.2 162" stroke="#000" stroke-width="2.3" fill="none"/>
<text class="k eq" transform="translate(199.84 207.6) scale(0.9091 1)" font-size="10.67" fill="#000" text-anchor="middle"><tspan font-style="italic">y</tspan><tspan dx="-0.88" fill="#3a3a3a" stroke="none"> =</tspan><tspan dx="-0.33"> 0.002</tspan><tspan dx="-0.22" fill="#777" stroke="none"> +</tspan><tspan dx="-1.21"> 0.9</tspan><tspan font-style="italic"> x</tspan></text>
<text class="k eq" transform="translate(199.84 224.53) scale(0.9091 1)" font-size="10.67" fill="#000" text-anchor="middle"><tspan font-style="italic">R</tspan><tspan font-size="8.03" dy="-3.3" dx="0.88">2</tspan><tspan dy="3.3" dx="0.44" fill="#3a3a3a" stroke="none"> =</tspan><tspan> 0.78</tspan></text>
</g>
<rect x="158.3" y="147.85" width="82.6" height="80.3" fill="none" stroke="#333" stroke-width="0.75"/>
<path d="M161.8 228.15v2.8" stroke="#333" stroke-width="0.95"/><text class="g" transform="translate(166.8 233.35) rotate(-90) scale(0.9091 1)" font-size="8.63" fill="#4D4D4D" text-anchor="end">0.00</text><path d="M179.2 228.15v2.8" stroke="#333" stroke-width="0.95"/><text class="g" transform="translate(184.2 233.35) rotate(-90) scale(0.9091 1)" font-size="8.63" fill="#4D4D4D" text-anchor="end">0.01</text><path d="M196.6 228.15v2.8" stroke="#333" stroke-width="0.95"/><text class="g" transform="translate(201.6 233.35) rotate(-90) scale(0.9091 1)" font-size="8.63" fill="#4D4D4D" text-anchor="end">0.02</text><path d="M214 228.15v2.8" stroke="#333" stroke-width="0.95"/><text class="g" transform="translate(219 233.35) rotate(-90) scale(0.9091 1)" font-size="8.63" fill="#4D4D4D" text-anchor="end">0.03</text><path d="M231.4 228.15v2.8" stroke="#333" stroke-width="0.95"/><text class="g" transform="translate(236.4 233.35) rotate(-90) scale(0.9091 1)" font-size="8.63" fill="#4D4D4D" text-anchor="end">0.04</text><path d="M158.3 225h-2.8" stroke="#333" stroke-width="0.95"/><text class="g" transform="translate(153.4 228) scale(0.9091 1)" font-size="8.63" fill="#4D4D4D" text-anchor="end">0.00</text><path d="M158.3 208.65h-2.8" stroke="#333" stroke-width="0.95"/><text class="g" transform="translate(153.4 211.65) scale(0.9091 1)" font-size="8.63" fill="#4D4D4D" text-anchor="end">0.01</text><path d="M158.3 192.3h-2.8" stroke="#333" stroke-width="0.95"/><text class="g" transform="translate(153.4 195.3) scale(0.9091 1)" font-size="8.63" fill="#4D4D4D" text-anchor="end">0.02</text><path d="M158.3 175.95h-2.8" stroke="#333" stroke-width="0.95"/><text class="g" transform="translate(153.4 178.95) scale(0.9091 1)" font-size="8.63" fill="#4D4D4D" text-anchor="end">0.03</text><path d="M158.3 159.6h-2.8" stroke="#333" stroke-width="0.95"/><text class="g" transform="translate(153.4 162.6) scale(0.9091 1)" font-size="8.63" fill="#4D4D4D" text-anchor="end">0.04</text>
<rect x="275.1" y="133.5" width="82.4" height="14.35" fill="#D9D9D9" stroke="#333" stroke-width="0.75"/>
<text class="s" transform="translate(316.3 143.88) scale(0.9091 1)" font-size="8.69" fill="#1A1A1A" text-anchor="middle">620</text>
<rect x="275.1" y="147.85" width="82.4" height="80.3" fill="#fff"/>
<path d="M287.8 147.85V228.15" stroke="#EBEBEB" stroke-width="0.4"/><path d="M305.8 147.85V228.15" stroke="#EBEBEB" stroke-width="0.4"/><path d="M323.8 147.85V228.15" stroke="#EBEBEB" stroke-width="0.4"/><path d="M341.8 147.85V228.15" stroke="#EBEBEB" stroke-width="0.4"/><path d="M275.1 216.55H357.5" stroke="#EBEBEB" stroke-width="0.4"/><path d="M275.1 199.65H357.5" stroke="#EBEBEB" stroke-width="0.4"/><path d="M275.1 182.75H357.5" stroke="#EBEBEB" stroke-width="0.4"/><path d="M275.1 165.85H357.5" stroke="#EBEBEB" stroke-width="0.4"/><path d="M275.1 148.95H357.5" stroke="#EBEBEB" stroke-width="0.4"/><path d="M278.8 147.85V228.15" stroke="#EBEBEB" stroke-width="0.8"/><path d="M296.8 147.85V228.15" stroke="#EBEBEB" stroke-width="0.8"/><path d="M314.8 147.85V228.15" stroke="#EBEBEB" stroke-width="0.8"/><path d="M332.8 147.85V228.15" stroke="#EBEBEB" stroke-width="0.8"/><path d="M350.8 147.85V228.15" stroke="#EBEBEB" stroke-width="0.8"/><path d="M275.1 225H357.5" stroke="#EBEBEB" stroke-width="0.8"/><path d="M275.1 208.1H357.5" stroke="#EBEBEB" stroke-width="0.8"/><path d="M275.1 191.2H357.5" stroke="#EBEBEB" stroke-width="0.8"/><path d="M275.1 174.3H357.5" stroke="#EBEBEB" stroke-width="0.8"/><path d="M275.1 157.4H357.5" stroke="#EBEBEB" stroke-width="0.8"/>
<g clip-path="url(#c6)">
<path d="M332.2 164.88H343.4" stroke="#31688E" stroke-width="1.25" stroke-opacity="0.85"/>
<path d="M279.4 195.92H288.2" stroke="#3E4A89" stroke-width="1.25" stroke-opacity="0.85"/>
<path d="M330.6 195.92H337" stroke="#3E4A89" stroke-width="1.25" stroke-opacity="0.85"/>
<path d="M285.8 201.2H305" stroke="#21908C" stroke-width="1.25" stroke-opacity="0.85"/>
<path d="M300.2 214.8H309" stroke="#FDE725" stroke-width="1.25" stroke-opacity="0.85"/>
<circle cx="351.4" cy="151.92" r="2.1" fill="#440154"/>
<circle cx="337.32" cy="164.88" r="2.1" fill="#31688E"/>
<circle cx="331.88" cy="176.88" r="2.1" fill="#3E4A89"/>
<circle cx="316.2" cy="186.32" r="2.1" fill="#440154"/>
<circle cx="318.6" cy="187.28" r="2.1" fill="#440154"/>
<circle cx="323.4" cy="191.6" r="2.1" fill="#440154"/>
<circle cx="319.72" cy="191.6" r="2.1" fill="#440154"/>
<circle cx="311.4" cy="193.2" r="2.1" fill="#3E4A89"/>
<circle cx="307.88" cy="194" r="2.1" fill="#21908C"/>
<circle cx="283.4" cy="195.92" r="2.1" fill="#3E4A89"/>
<circle cx="333.8" cy="195.92" r="2.1" fill="#3E4A89"/>
<circle cx="305.8" cy="198" r="2.1" fill="#3E4A89"/>
<circle cx="312.2" cy="199.6" r="2.1" fill="#21908C"/>
<circle cx="296.68" cy="201.2" r="2.1" fill="#21908C"/>
<circle cx="300.52" cy="204.56" r="2.1" fill="#FDE725"/>
<circle cx="297" cy="206.8" r="2.1" fill="#21908C"/>
<circle cx="300.52" cy="209.68" r="2.1" fill="#FDE725"/>
<circle cx="296.2" cy="210.8" r="2.1" fill="#472D7B"/>
<circle cx="304.2" cy="214.8" r="2.1" fill="#FDE725"/>
<circle cx="287.4" cy="218.32" r="2.1" fill="#472D7B"/>
<circle cx="285.48" cy="219.92" r="2.1" fill="#FDE725"/>
<circle cx="286.6" cy="220.88" r="2.1" fill="#B4DE2C"/>
<circle cx="309" cy="197.2" r="2.1" fill="#472D7B"/>
<path d="M274.7 228.85L358.2 150.45" stroke="#000" stroke-width="1.2" stroke-dasharray="3.8 3.3" fill="none"/>
<path d="M280.2 222.8L352.2 163.28" stroke="#000" stroke-width="2.3" fill="none"/>
<text class="k eq" transform="translate(316.84 207.6) scale(0.9091 1)" font-size="10.67" fill="#000" text-anchor="middle"><tspan font-style="italic">y</tspan><tspan dx="-0.88" fill="#3a3a3a" stroke="none"> =</tspan><tspan dx="-0.33"> 0.002</tspan><tspan dx="-0.22" fill="#777" stroke="none"> +</tspan><tspan dx="-1.21"> 0.9</tspan><tspan font-style="italic"> x</tspan></text>
<text class="k eq" transform="translate(316.84 224.53) scale(0.9091 1)" font-size="10.67" fill="#000" text-anchor="middle"><tspan font-style="italic">R</tspan><tspan font-size="8.03" dy="-3.3" dx="0.88">2</tspan><tspan dy="3.3" dx="0.44" fill="#3a3a3a" stroke="none"> =</tspan><tspan> 0.79</tspan></text>
</g>
<rect x="275.1" y="147.85" width="82.4" height="80.3" fill="none" stroke="#333" stroke-width="0.75"/>
<path d="M278.8 228.15v2.8" stroke="#333" stroke-width="0.95"/><text class="g" transform="translate(283.8 233.35) rotate(-90) scale(0.9091 1)" font-size="8.63" fill="#4D4D4D" text-anchor="end">0.00</text><path d="M296.8 228.15v2.8" stroke="#333" stroke-width="0.95"/><text class="g" transform="translate(301.8 233.35) rotate(-90) scale(0.9091 1)" font-size="8.63" fill="#4D4D4D" text-anchor="end">0.01</text><path d="M314.8 228.15v2.8" stroke="#333" stroke-width="0.95"/><text class="g" transform="translate(319.8 233.35) rotate(-90) scale(0.9091 1)" font-size="8.63" fill="#4D4D4D" text-anchor="end">0.02</text><path d="M332.8 228.15v2.8" stroke="#333" stroke-width="0.95"/><text class="g" transform="translate(337.8 233.35) rotate(-90) scale(0.9091 1)" font-size="8.63" fill="#4D4D4D" text-anchor="end">0.03</text><path d="M350.8 228.15v2.8" stroke="#333" stroke-width="0.95"/><text class="g" transform="translate(355.8 233.35) rotate(-90) scale(0.9091 1)" font-size="8.63" fill="#4D4D4D" text-anchor="end">0.04</text><path d="M275.1 225h-2.8" stroke="#333" stroke-width="0.95"/><text class="g" transform="translate(270.2 228) scale(0.9091 1)" font-size="8.63" fill="#4D4D4D" text-anchor="end">0.00</text><path d="M275.1 208.1h-2.8" stroke="#333" stroke-width="0.95"/><text class="g" transform="translate(270.2 211.1) scale(0.9091 1)" font-size="8.63" fill="#4D4D4D" text-anchor="end">0.01</text><path d="M275.1 191.2h-2.8" stroke="#333" stroke-width="0.95"/><text class="g" transform="translate(270.2 194.2) scale(0.9091 1)" font-size="8.63" fill="#4D4D4D" text-anchor="end">0.02</text><path d="M275.1 174.3h-2.8" stroke="#333" stroke-width="0.95"/><text class="g" transform="translate(270.2 177.3) scale(0.9091 1)" font-size="8.63" fill="#4D4D4D" text-anchor="end">0.03</text><path d="M275.1 157.4h-2.8" stroke="#333" stroke-width="0.95"/><text class="g" transform="translate(270.2 160.4) scale(0.9091 1)" font-size="8.63" fill="#4D4D4D" text-anchor="end">0.04</text>
<rect x="387.6" y="133.5" width="82.4" height="14.35" fill="#D9D9D9" stroke="#333" stroke-width="0.75"/>
<text class="s" transform="translate(428.8 143.88) scale(0.9091 1)" font-size="8.69" fill="#1A1A1A" text-anchor="middle">665</text>
<rect x="387.6" y="147.85" width="82.4" height="80.3" fill="#fff"/>
<path d="M402.48 147.85V228.15" stroke="#EBEBEB" stroke-width="0.4"/><path d="M425.83 147.85V228.15" stroke="#EBEBEB" stroke-width="0.4"/><path d="M449.18 147.85V228.15" stroke="#EBEBEB" stroke-width="0.4"/><path d="M387.6 213.95H470" stroke="#EBEBEB" stroke-width="0.4"/><path d="M387.6 191.85H470" stroke="#EBEBEB" stroke-width="0.4"/><path d="M387.6 169.75H470" stroke="#EBEBEB" stroke-width="0.4"/><path d="M390.8 147.85V228.15" stroke="#EBEBEB" stroke-width="0.8"/><path d="M414.15 147.85V228.15" stroke="#EBEBEB" stroke-width="0.8"/><path d="M437.5 147.85V228.15" stroke="#EBEBEB" stroke-width="0.8"/><path d="M460.85 147.85V228.15" stroke="#EBEBEB" stroke-width="0.8"/><path d="M387.6 225H470" stroke="#EBEBEB" stroke-width="0.8"/><path d="M387.6 202.9H470" stroke="#EBEBEB" stroke-width="0.8"/><path d="M387.6 180.8H470" stroke="#EBEBEB" stroke-width="0.8"/><path d="M387.6 158.7H470" stroke="#EBEBEB" stroke-width="0.8"/>
<g clip-path="url(#c7)">
<path d="M444.2 166.32H457.8" stroke="#31688E" stroke-width="1.25" stroke-opacity="0.85"/>
<path d="M391.4 188.4H400.2" stroke="#3E4A89" stroke-width="1.25" stroke-opacity="0.85"/>
<path d="M417.8 193.2H425.8" stroke="#31688E" stroke-width="1.25" stroke-opacity="0.85"/>
<path d="M443.4 198H452.2" stroke="#3E4A89" stroke-width="1.25" stroke-opacity="0.85"/>
<path d="M397 198.8H425" stroke="#21908C" stroke-width="1.25" stroke-opacity="0.85"/>
<path d="M412.2 214.8H425" stroke="#FDE725" stroke-width="1.25" stroke-opacity="0.85"/>
<circle cx="462.6" cy="151.92" r="2.1" fill="#440154"/>
<circle cx="451.08" cy="166.32" r="2.1" fill="#31688E"/>
<circle cx="435.88" cy="175.92" r="2.1" fill="#440154"/>
<circle cx="446.28" cy="177.2" r="2.1" fill="#3E4A89"/>
<circle cx="436.2" cy="183.12" r="2.1" fill="#3E4A89"/>
<circle cx="395.4" cy="188.4" r="2.1" fill="#3E4A89"/>
<circle cx="429" cy="188.4" r="2.1" fill="#440154"/>
<circle cx="426.92" cy="190.48" r="2.1" fill="#440154"/>
<circle cx="421.8" cy="193.2" r="2.1" fill="#31688E"/>
<circle cx="433" cy="192.4" r="2.1" fill="#440154"/>
<circle cx="430.12" cy="193.2" r="2.1" fill="#3E4A89"/>
<circle cx="435.4" cy="194.8" r="2.1" fill="#440154"/>
<circle cx="433.32" cy="198.32" r="2.1" fill="#440154"/>
<circle cx="447.72" cy="198" r="2.1" fill="#3E4A89"/>
<circle cx="410.6" cy="198.8" r="2.1" fill="#21908C"/>
<circle cx="419.4" cy="198.8" r="2.1" fill="#21908C"/>
<circle cx="426.6" cy="200.4" r="2.1" fill="#21908C"/>
<circle cx="411.4" cy="203.6" r="2.1" fill="#21908C"/>
<circle cx="414.6" cy="206" r="2.1" fill="#FDE725"/>
<circle cx="411.4" cy="207.6" r="2.1" fill="#21908C"/>
<circle cx="413" cy="210" r="2.1" fill="#FDE725"/>
<circle cx="406.6" cy="213.2" r="2.1" fill="#472D7B"/>
<circle cx="418.6" cy="214.8" r="2.1" fill="#FDE725"/>
<circle cx="399.72" cy="218.32" r="2.1" fill="#FDE725"/>
<circle cx="401" cy="219.6" r="2.1" fill="#472D7B"/>
<circle cx="399.08" cy="219.92" r="2.1" fill="#B4DE2C"/>
<path d="M386.9 228.69L470.7 149.38" stroke="#000" stroke-width="1.2" stroke-dasharray="3.8 3.3" fill="none"/>
<path d="M395.4 219.6L462.6 166" stroke="#000" stroke-width="2.3" fill="none"/>
<text class="k eq" transform="translate(428.84 207.6) scale(0.9091 1)" font-size="10.67" fill="#000" text-anchor="middle"><tspan font-style="italic">y</tspan><tspan dx="-0.88" fill="#3a3a3a" stroke="none"> =</tspan><tspan dx="-0.33"> 0.003</tspan><tspan dx="-0.22" fill="#777" stroke="none"> +</tspan><tspan dx="-1.21"> 0.8</tspan><tspan font-style="italic"> x</tspan></text>
<text class="k eq" transform="translate(428.52 224.53) scale(0.9091 1)" font-size="10.67" fill="#000" text-anchor="middle"><tspan font-style="italic">R</tspan><tspan font-size="8.03" dy="-3.3" dx="0.88">2</tspan><tspan dy="3.3" dx="0.44" fill="#3a3a3a" stroke="none"> =</tspan><tspan> 0.71</tspan></text>
</g>
<rect x="387.6" y="147.85" width="82.4" height="80.3" fill="none" stroke="#333" stroke-width="0.75"/>
<path d="M390.8 228.15v2.8" stroke="#333" stroke-width="0.95"/><text class="g" transform="translate(395.8 233.35) rotate(-90) scale(0.9091 1)" font-size="8.63" fill="#4D4D4D" text-anchor="end">0.00</text><path d="M414.15 228.15v2.8" stroke="#333" stroke-width="0.95"/><text class="g" transform="translate(419.15 233.35) rotate(-90) scale(0.9091 1)" font-size="8.63" fill="#4D4D4D" text-anchor="end">0.01</text><path d="M437.5 228.15v2.8" stroke="#333" stroke-width="0.95"/><text class="g" transform="translate(442.5 233.35) rotate(-90) scale(0.9091 1)" font-size="8.63" fill="#4D4D4D" text-anchor="end">0.02</text><path d="M460.85 228.15v2.8" stroke="#333" stroke-width="0.95"/><text class="g" transform="translate(465.85 233.35) rotate(-90) scale(0.9091 1)" font-size="8.63" fill="#4D4D4D" text-anchor="end">0.03</text><path d="M387.6 225h-2.8" stroke="#333" stroke-width="0.95"/><text class="g" transform="translate(382.7 228) scale(0.9091 1)" font-size="8.63" fill="#4D4D4D" text-anchor="end">0.00</text><path d="M387.6 202.9h-2.8" stroke="#333" stroke-width="0.95"/><text class="g" transform="translate(382.7 205.9) scale(0.9091 1)" font-size="8.63" fill="#4D4D4D" text-anchor="end">0.01</text><path d="M387.6 180.8h-2.8" stroke="#333" stroke-width="0.95"/><text class="g" transform="translate(382.7 183.8) scale(0.9091 1)" font-size="8.63" fill="#4D4D4D" text-anchor="end">0.02</text><path d="M387.6 158.7h-2.8" stroke="#333" stroke-width="0.95"/><text class="g" transform="translate(382.7 161.7) scale(0.9091 1)" font-size="8.63" fill="#4D4D4D" text-anchor="end">0.03</text>
<rect x="46.15" y="257.8" width="82.05" height="14.6" fill="#D9D9D9" stroke="#333" stroke-width="0.75"/>
<text class="s" transform="translate(87.17 268.3) scale(0.9091 1)" font-size="8.69" fill="#1A1A1A" text-anchor="middle">681.25</text>
<rect x="46.15" y="272.4" width="82.05" height="80.3" fill="#fff"/>
<path d="M63.27 272.4V352.7" stroke="#EBEBEB" stroke-width="0.4"/><path d="M90.22 272.4V352.7" stroke="#EBEBEB" stroke-width="0.4"/><path d="M117.17 272.4V352.7" stroke="#EBEBEB" stroke-width="0.4"/><path d="M46.15 336.2H128.2" stroke="#EBEBEB" stroke-width="0.4"/><path d="M46.15 310.4H128.2" stroke="#EBEBEB" stroke-width="0.4"/><path d="M46.15 284.6H128.2" stroke="#EBEBEB" stroke-width="0.4"/><path d="M49.8 272.4V352.7" stroke="#EBEBEB" stroke-width="0.8"/><path d="M76.75 272.4V352.7" stroke="#EBEBEB" stroke-width="0.8"/><path d="M103.7 272.4V352.7" stroke="#EBEBEB" stroke-width="0.8"/><path d="M46.15 349.1H128.2" stroke="#EBEBEB" stroke-width="0.8"/><path d="M46.15 323.3H128.2" stroke="#EBEBEB" stroke-width="0.8"/><path d="M46.15 297.5H128.2" stroke="#EBEBEB" stroke-width="0.8"/>
<g clip-path="url(#c8)">
<path d="M116.8 276.08H124.8" stroke="#440154" stroke-width="1.25" stroke-opacity="0.85"/>
<path d="M100.8 294H116" stroke="#31688E" stroke-width="1.25" stroke-opacity="0.85"/>
<path d="M96 302H103.2" stroke="#3E4A89" stroke-width="1.25" stroke-opacity="0.85"/>
<path d="M50.4 310.32H59.2" stroke="#3E4A89" stroke-width="1.25" stroke-opacity="0.85"/>
<path d="M76 317.2H88" stroke="#31688E" stroke-width="1.25" stroke-opacity="0.85"/>
<path d="M56.48 319.6H84" stroke="#21908C" stroke-width="1.25" stroke-opacity="0.85"/>
<path d="M75.2 337.2H88" stroke="#FDE725" stroke-width="1.25" stroke-opacity="0.85"/>
<circle cx="121.28" cy="276.08" r="2.1" fill="#440154"/>
<circle cx="99.2" cy="294" r="2.1" fill="#440154"/>
<circle cx="108.32" cy="294" r="2.1" fill="#31688E"/>
<circle cx="99.2" cy="302" r="2.1" fill="#3E4A89"/>
<circle cx="105.6" cy="303.28" r="2.1" fill="#3E4A89"/>
<circle cx="90.72" cy="308.4" r="2.1" fill="#440154"/>
<circle cx="54.4" cy="310.32" r="2.1" fill="#3E4A89"/>
<circle cx="88" cy="311.92" r="2.1" fill="#3E4A89"/>
<circle cx="96.8" cy="313.52" r="2.1" fill="#440154"/>
<circle cx="93.6" cy="314.8" r="2.1" fill="#FDE725"/>
<circle cx="98.4" cy="316.88" r="2.1" fill="#440154"/>
<circle cx="81.92" cy="317.2" r="2.1" fill="#31688E"/>
<circle cx="72" cy="319.6" r="2.1" fill="#21908C"/>
<circle cx="80" cy="321.2" r="2.1" fill="#FDE725"/>
<circle cx="88.48" cy="322.32" r="2.1" fill="#21908C"/>
<circle cx="83.2" cy="322" r="2.1" fill="#21908C"/>
<circle cx="76.8" cy="322.8" r="2.1" fill="#21908C"/>
<circle cx="94.88" cy="323.6" r="2.1" fill="#472D7B"/>
<circle cx="107.2" cy="324.4" r="2.1" fill="#3E4A89"/>
<circle cx="73.6" cy="325.2" r="2.1" fill="#FDE725"/>
<circle cx="75.2" cy="332.4" r="2.1" fill="#FDE725"/>
<circle cx="72" cy="330.8" r="2.1" fill="#21908C"/>
<circle cx="68.8" cy="334.8" r="2.1" fill="#472D7B"/>
<circle cx="70.4" cy="336.4" r="2.1" fill="#21908C"/>
<circle cx="81.6" cy="337.2" r="2.1" fill="#FDE725"/>
<circle cx="60.8" cy="340.4" r="2.1" fill="#FDE725"/>
<circle cx="62.4" cy="342.32" r="2.1" fill="#472D7B"/>
<circle cx="59.2" cy="342.8" r="2.1" fill="#21908C"/>
<path d="M45.45 353.26L128.9 273.38" stroke="#000" stroke-width="1.2" stroke-dasharray="3.8 3.3" fill="none"/>
<path d="M54.4 342.8L121.6 292.4" stroke="#000" stroke-width="2.3" fill="none"/>
<text class="k eq" transform="translate(87.84 331.6) scale(0.9091 1)" font-size="10.67" fill="#000" text-anchor="middle"><tspan font-style="italic">y</tspan><tspan dx="-0.88" fill="#3a3a3a" stroke="none"> =</tspan><tspan dx="-0.33"> 0.003</tspan><tspan dx="-0.22" fill="#777" stroke="none"> +</tspan><tspan dx="-1.21"> 0.8</tspan><tspan font-style="italic"> x</tspan></text>
<text class="k eq" transform="translate(87.84 348.53) scale(0.9091 1)" font-size="10.67" fill="#000" text-anchor="middle"><tspan font-style="italic">R</tspan><tspan font-size="8.03" dy="-3.3" dx="0.88">2</tspan><tspan dy="3.3" dx="0.44" fill="#3a3a3a" stroke="none"> =</tspan><tspan> 0.65</tspan></text>
</g>
<rect x="46.15" y="272.4" width="82.05" height="80.3" fill="none" stroke="#333" stroke-width="0.75"/>
<path d="M49.8 352.7v2.8" stroke="#333" stroke-width="0.95"/><text class="g" transform="translate(54.8 357.9) rotate(-90) scale(0.9091 1)" font-size="8.63" fill="#4D4D4D" text-anchor="end">0.00</text><path d="M76.75 352.7v2.8" stroke="#333" stroke-width="0.95"/><text class="g" transform="translate(81.75 357.9) rotate(-90) scale(0.9091 1)" font-size="8.63" fill="#4D4D4D" text-anchor="end">0.01</text><path d="M103.7 352.7v2.8" stroke="#333" stroke-width="0.95"/><text class="g" transform="translate(108.7 357.9) rotate(-90) scale(0.9091 1)" font-size="8.63" fill="#4D4D4D" text-anchor="end">0.02</text><path d="M46.15 349.1h-2.8" stroke="#333" stroke-width="0.95"/><text class="g" transform="translate(41.25 352.1) scale(0.9091 1)" font-size="8.63" fill="#4D4D4D" text-anchor="end">0.00</text><path d="M46.15 323.3h-2.8" stroke="#333" stroke-width="0.95"/><text class="g" transform="translate(41.25 326.3) scale(0.9091 1)" font-size="8.63" fill="#4D4D4D" text-anchor="end">0.01</text><path d="M46.15 297.5h-2.8" stroke="#333" stroke-width="0.95"/><text class="g" transform="translate(41.25 300.5) scale(0.9091 1)" font-size="8.63" fill="#4D4D4D" text-anchor="end">0.02</text>
<rect x="158.3" y="257.8" width="82.6" height="14.6" fill="#D9D9D9" stroke="#333" stroke-width="0.75"/>
<text class="s" transform="translate(199.6 268.3) scale(0.9091 1)" font-size="8.69" fill="#1A1A1A" text-anchor="middle">708.75</text>
<rect x="158.3" y="272.4" width="82.6" height="80.3" fill="#fff"/>
<path d="M173 272.4V352.7" stroke="#EBEBEB" stroke-width="0.4"/><path d="M195.4 272.4V352.7" stroke="#EBEBEB" stroke-width="0.4"/><path d="M217.8 272.4V352.7" stroke="#EBEBEB" stroke-width="0.4"/><path d="M240.2 272.4V352.7" stroke="#EBEBEB" stroke-width="0.4"/><path d="M158.3 338.2H240.9" stroke="#EBEBEB" stroke-width="0.4"/><path d="M158.3 316.4H240.9" stroke="#EBEBEB" stroke-width="0.4"/><path d="M158.3 294.6H240.9" stroke="#EBEBEB" stroke-width="0.4"/><path d="M161.8 272.4V352.7" stroke="#EBEBEB" stroke-width="0.8"/><path d="M184.2 272.4V352.7" stroke="#EBEBEB" stroke-width="0.8"/><path d="M206.6 272.4V352.7" stroke="#EBEBEB" stroke-width="0.8"/><path d="M229 272.4V352.7" stroke="#EBEBEB" stroke-width="0.8"/><path d="M158.3 349.1H240.9" stroke="#EBEBEB" stroke-width="0.8"/><path d="M158.3 327.3H240.9" stroke="#EBEBEB" stroke-width="0.8"/><path d="M158.3 305.5H240.9" stroke="#EBEBEB" stroke-width="0.8"/><path d="M158.3 283.7H240.9" stroke="#EBEBEB" stroke-width="0.8"/>
<g clip-path="url(#c9)">
<path d="M221.6 287.6H232" stroke="#31688E" stroke-width="1.25" stroke-opacity="0.85"/>
<path d="M219.2 299.6H226.4" stroke="#3E4A89" stroke-width="1.25" stroke-opacity="0.85"/>
<path d="M162.4 302.48H171.2" stroke="#3E4A89" stroke-width="1.25" stroke-opacity="0.85"/>
<path d="M190.4 314.8H200" stroke="#31688E" stroke-width="1.25" stroke-opacity="0.85"/>
<path d="M185.6 321.52H195.2" stroke="#3E4A89" stroke-width="1.25" stroke-opacity="0.85"/>
<path d="M219.2 321.52H228" stroke="#3E4A89" stroke-width="1.25" stroke-opacity="0.85"/>
<path d="M191.2 322.8H199.2" stroke="#FDE725" stroke-width="1.25" stroke-opacity="0.85"/>
<path d="M164.48 326.8H188" stroke="#21908C" stroke-width="1.25" stroke-opacity="0.85"/>
<path d="M181.6 337.2H190.4" stroke="#21908C" stroke-width="1.25" stroke-opacity="0.85"/>
<path d="M180 341.2H190.4" stroke="#FDE725" stroke-width="1.25" stroke-opacity="0.85"/>
<path d="M169.6 345.2H178.4" stroke="#21908C" stroke-width="1.25" stroke-opacity="0.85"/>
<circle cx="233.92" cy="276.4" r="2.1" fill="#440154"/>
<circle cx="226.88" cy="287.6" r="2.1" fill="#31688E"/>
<circle cx="207.68" cy="295.6" r="2.1" fill="#440154"/>
<circle cx="212.8" cy="298.8" r="2.1" fill="#3E4A89"/>
<circle cx="222.4" cy="299.6" r="2.1" fill="#3E4A89"/>
<circle cx="166.4" cy="302.48" r="2.1" fill="#3E4A89"/>
<circle cx="206.08" cy="303.6" r="2.1" fill="#440154"/>
<circle cx="205.6" cy="306" r="2.1" fill="#3E4A89"/>
<circle cx="209.6" cy="313.2" r="2.1" fill="#440154"/>
<circle cx="204" cy="314" r="2.1" fill="#440154"/>
<circle cx="195.2" cy="314.8" r="2.1" fill="#31688E"/>
<circle cx="194.4" cy="318" r="2.1" fill="#21908C"/>
<circle cx="203.52" cy="320.4" r="2.1" fill="#440154"/>
<circle cx="190.4" cy="321.52" r="2.1" fill="#3E4A89"/>
<circle cx="223.68" cy="321.52" r="2.1" fill="#3E4A89"/>
<circle cx="196" cy="322.8" r="2.1" fill="#FDE725"/>
<circle cx="193.6" cy="321.2" r="2.1" fill="#FDE725"/>
<circle cx="179.2" cy="326.8" r="2.1" fill="#21908C"/>
<circle cx="185.6" cy="337.2" r="2.1" fill="#21908C"/>
<circle cx="181.6" cy="330" r="2.1" fill="#FDE725"/>
<circle cx="184.8" cy="331.6" r="2.1" fill="#21908C"/>
<circle cx="182.4" cy="333.2" r="2.1" fill="#21908C"/>
<circle cx="180.8" cy="335.12" r="2.1" fill="#472D7B"/>
<circle cx="179.2" cy="338.8" r="2.1" fill="#FDE725"/>
<circle cx="173.6" cy="341.2" r="2.1" fill="#472D7B"/>
<circle cx="185.6" cy="341.2" r="2.1" fill="#FDE725"/>
<circle cx="174.4" cy="345.2" r="2.1" fill="#21908C"/>
<circle cx="170.4" cy="346.48" r="2.1" fill="#472D7B"/>
<circle cx="167.2" cy="347.12" r="2.1" fill="#21908C"/>
<circle cx="169.6" cy="343.92" r="2.1" fill="#FDE725"/>
<path d="M157.6 353.19L241.33 271.7" stroke="#000" stroke-width="1.2" stroke-dasharray="3.8 3.3" fill="none"/>
<path d="M164.8 346.48L233.6 288.4" stroke="#000" stroke-width="2.3" fill="none"/>
<text class="k eq" transform="translate(199.84 331.6) scale(0.9091 1)" font-size="10.67" fill="#000" text-anchor="middle"><tspan font-style="italic">y</tspan><tspan dx="-0.88" fill="#3a3a3a" stroke="none"> =</tspan><tspan dx="-0.33"> 0.003</tspan><tspan dx="-0.22" fill="#777" stroke="none"> +</tspan><tspan dx="-1.21"> 0.8</tspan><tspan font-style="italic"> x</tspan></text>
<text class="k eq" transform="translate(199.84 348.53) scale(0.9091 1)" font-size="10.67" fill="#000" text-anchor="middle"><tspan font-style="italic">R</tspan><tspan font-size="8.03" dy="-3.3" dx="0.88">2</tspan><tspan dy="3.3" dx="0.44" fill="#3a3a3a" stroke="none"> =</tspan><tspan> 0.72</tspan></text>
</g>
<rect x="158.3" y="272.4" width="82.6" height="80.3" fill="none" stroke="#333" stroke-width="0.75"/>
<path d="M161.8 352.7v2.8" stroke="#333" stroke-width="0.95"/><text class="g" transform="translate(166.8 357.9) rotate(-90) scale(0.9091 1)" font-size="8.63" fill="#4D4D4D" text-anchor="end">0.00</text><path d="M184.2 352.7v2.8" stroke="#333" stroke-width="0.95"/><text class="g" transform="translate(189.2 357.9) rotate(-90) scale(0.9091 1)" font-size="8.63" fill="#4D4D4D" text-anchor="end">0.01</text><path d="M206.6 352.7v2.8" stroke="#333" stroke-width="0.95"/><text class="g" transform="translate(211.6 357.9) rotate(-90) scale(0.9091 1)" font-size="8.63" fill="#4D4D4D" text-anchor="end">0.02</text><path d="M229 352.7v2.8" stroke="#333" stroke-width="0.95"/><text class="g" transform="translate(234 357.9) rotate(-90) scale(0.9091 1)" font-size="8.63" fill="#4D4D4D" text-anchor="end">0.03</text><path d="M158.3 349.1h-2.8" stroke="#333" stroke-width="0.95"/><text class="g" transform="translate(153.4 352.1) scale(0.9091 1)" font-size="8.63" fill="#4D4D4D" text-anchor="end">0.00</text><path d="M158.3 327.3h-2.8" stroke="#333" stroke-width="0.95"/><text class="g" transform="translate(153.4 330.3) scale(0.9091 1)" font-size="8.63" fill="#4D4D4D" text-anchor="end">0.01</text><path d="M158.3 305.5h-2.8" stroke="#333" stroke-width="0.95"/><text class="g" transform="translate(153.4 308.5) scale(0.9091 1)" font-size="8.63" fill="#4D4D4D" text-anchor="end">0.02</text><path d="M158.3 283.7h-2.8" stroke="#333" stroke-width="0.95"/><text class="g" transform="translate(153.4 286.7) scale(0.9091 1)" font-size="8.63" fill="#4D4D4D" text-anchor="end">0.03</text>
<rect x="275.1" y="257.8" width="82.4" height="14.6" fill="#D9D9D9" stroke="#333" stroke-width="0.75"/>
<text class="s" transform="translate(316.3 268.3) scale(0.9091 1)" font-size="8.69" fill="#1A1A1A" text-anchor="middle">753.75</text>
<rect x="275.1" y="272.4" width="82.4" height="80.3" fill="#fff"/>
<path d="M286.7 272.4V352.7" stroke="#EBEBEB" stroke-width="0.4"/><path d="M302.5 272.4V352.7" stroke="#EBEBEB" stroke-width="0.4"/><path d="M318.3 272.4V352.7" stroke="#EBEBEB" stroke-width="0.4"/><path d="M334.1 272.4V352.7" stroke="#EBEBEB" stroke-width="0.4"/><path d="M349.9 272.4V352.7" stroke="#EBEBEB" stroke-width="0.4"/><path d="M275.1 336.25H357.5" stroke="#EBEBEB" stroke-width="0.4"/><path d="M275.1 310.55H357.5" stroke="#EBEBEB" stroke-width="0.4"/><path d="M275.1 284.85H357.5" stroke="#EBEBEB" stroke-width="0.4"/><path d="M278.8 272.4V352.7" stroke="#EBEBEB" stroke-width="0.8"/><path d="M294.6 272.4V352.7" stroke="#EBEBEB" stroke-width="0.8"/><path d="M310.4 272.4V352.7" stroke="#EBEBEB" stroke-width="0.8"/><path d="M326.2 272.4V352.7" stroke="#EBEBEB" stroke-width="0.8"/><path d="M342 272.4V352.7" stroke="#EBEBEB" stroke-width="0.8"/><path d="M357.8 272.4V352.7" stroke="#EBEBEB" stroke-width="0.8"/><path d="M275.1 349.1H357.5" stroke="#EBEBEB" stroke-width="0.8"/><path d="M275.1 323.4H357.5" stroke="#EBEBEB" stroke-width="0.8"/><path d="M275.1 297.7H357.5" stroke="#EBEBEB" stroke-width="0.8"/>
<g clip-path="url(#c10)">
<path d="M330.6 276.4H350.6" stroke="#440154" stroke-width="1.25" stroke-opacity="0.85"/>
<path d="M322.6 296.4H333" stroke="#3E4A89" stroke-width="1.25" stroke-opacity="0.85"/>
<path d="M317 302H353.8" stroke="#31688E" stroke-width="1.25" stroke-opacity="0.85"/>
<path d="M321 304.08H342.6" stroke="#3E4A89" stroke-width="1.25" stroke-opacity="0.85"/>
<path d="M322.6 322.8H345" stroke="#3E4A89" stroke-width="1.25" stroke-opacity="0.85"/>
<path d="M294.6 323.6H319.4" stroke="#3E4A89" stroke-width="1.25" stroke-opacity="0.85"/>
<path d="M280.2 327.6H321" stroke="#21908C" stroke-width="1.25" stroke-opacity="0.85"/>
<path d="M298.6 330H323.4" stroke="#FDE725" stroke-width="1.25" stroke-opacity="0.85"/>
<path d="M283.4 333.2H314.6" stroke="#21908C" stroke-width="1.25" stroke-opacity="0.85"/>
<path d="M281.8 338H309.8" stroke="#21908C" stroke-width="1.25" stroke-opacity="0.85"/>
<path d="M280.2 340.4H301.8" stroke="#21908C" stroke-width="1.25" stroke-opacity="0.85"/>
<path d="M293.8 341.68H316.2" stroke="#FDE725" stroke-width="1.25" stroke-opacity="0.85"/>
<path d="M281 345.2H290.6" stroke="#FDE725" stroke-width="1.25" stroke-opacity="0.85"/>
<circle cx="340.2" cy="276.4" r="2.1" fill="#440154"/>
<circle cx="323.08" cy="286.48" r="2.1" fill="#472D7B"/>
<circle cx="327.72" cy="296.4" r="2.1" fill="#3E4A89"/>
<circle cx="334.6" cy="302" r="2.1" fill="#31688E"/>
<circle cx="332.2" cy="304.08" r="2.1" fill="#3E4A89"/>
<circle cx="319.08" cy="308.4" r="2.1" fill="#440154"/>
<circle cx="323.4" cy="307.92" r="2.1" fill="#3E4A89"/>
<circle cx="282.12" cy="314" r="2.1" fill="#3E4A89"/>
<circle cx="324.2" cy="317.2" r="2.1" fill="#472D7B"/>
<circle cx="316.52" cy="321.2" r="2.1" fill="#440154"/>
<circle cx="321" cy="322.8" r="2.1" fill="#472D7B"/>
<circle cx="333.8" cy="322.8" r="2.1" fill="#3E4A89"/>
<circle cx="302.6" cy="323.6" r="2.1" fill="#3E4A89"/>
<circle cx="299.4" cy="327.6" r="2.1" fill="#21908C"/>
<circle cx="290.6" cy="330.8" r="2.1" fill="#21908C"/>
<circle cx="309.8" cy="330" r="2.1" fill="#FDE725"/>
<circle cx="301" cy="333.2" r="2.1" fill="#21908C"/>
<circle cx="297" cy="335.6" r="2.1" fill="#440154"/>
<circle cx="288.2" cy="337.2" r="2.1" fill="#472D7B"/>
<circle cx="293.8" cy="338" r="2.1" fill="#21908C"/>
<circle cx="295.4" cy="339.92" r="2.1" fill="#FDE725"/>
<circle cx="289" cy="340.4" r="2.1" fill="#21908C"/>
<circle cx="298.6" cy="341.68" r="2.1" fill="#FDE725"/>
<circle cx="285.8" cy="342.8" r="2.1" fill="#472D7B"/>
<circle cx="284.2" cy="343.6" r="2.1" fill="#21908C"/>
<circle cx="281.8" cy="344.4" r="2.1" fill="#21908C"/>
<circle cx="285" cy="345.2" r="2.1" fill="#FDE725"/>
<path d="M274.4 352.68L358.2 284.52" stroke="#000" stroke-width="1.2" stroke-dasharray="3.8 3.3" fill="none"/>
<path d="M281 345.2L341 298" stroke="#000" stroke-width="2.3" fill="none"/>
<text class="k eq" transform="translate(316.84 331.6) scale(0.9091 1)" font-size="10.67" fill="#000" text-anchor="middle"><tspan font-style="italic">y</tspan><tspan dx="-0.88" fill="#3a3a3a" stroke="none"> =</tspan><tspan dx="-0.33"> 0.001</tspan><tspan dx="-0.22" fill="#777" stroke="none"> +</tspan><tspan dx="-1.21"> 0.7</tspan><tspan font-style="italic"> x</tspan></text>
<text class="k eq" transform="translate(316.84 348.53) scale(0.9091 1)" font-size="10.67" fill="#000" text-anchor="middle"><tspan font-style="italic">R</tspan><tspan font-size="8.03" dy="-3.3" dx="0.88">2</tspan><tspan dy="3.3" dx="0.44" fill="#3a3a3a" stroke="none"> =</tspan><tspan> 0.69</tspan></text>
</g>
<rect x="275.1" y="272.4" width="82.4" height="80.3" fill="none" stroke="#333" stroke-width="0.75"/>
<path d="M278.8 352.7v2.8" stroke="#333" stroke-width="0.95"/><text class="g" transform="translate(283.8 357.9) rotate(-90) scale(0.9091 1)" font-size="8.63" fill="#4D4D4D" text-anchor="end">0.0000</text><path d="M294.6 352.7v2.8" stroke="#333" stroke-width="0.95"/><text class="g" transform="translate(299.6 357.9) rotate(-90) scale(0.9091 1)" font-size="8.63" fill="#4D4D4D" text-anchor="end">0.0025</text><path d="M310.4 352.7v2.8" stroke="#333" stroke-width="0.95"/><text class="g" transform="translate(315.4 357.9) rotate(-90) scale(0.9091 1)" font-size="8.63" fill="#4D4D4D" text-anchor="end">0.0050</text><path d="M326.2 352.7v2.8" stroke="#333" stroke-width="0.95"/><text class="g" transform="translate(331.2 357.9) rotate(-90) scale(0.9091 1)" font-size="8.63" fill="#4D4D4D" text-anchor="end">0.0075</text><path d="M342 352.7v2.8" stroke="#333" stroke-width="0.95"/><text class="g" transform="translate(347 357.9) rotate(-90) scale(0.9091 1)" font-size="8.63" fill="#4D4D4D" text-anchor="end">0.0100</text><path d="M357.8 352.7v2.8" stroke="#333" stroke-width="0.95"/><text class="g" transform="translate(362.8 357.9) rotate(-90) scale(0.9091 1)" font-size="8.63" fill="#4D4D4D" text-anchor="end">0.0125</text><path d="M275.1 349.1h-2.8" stroke="#333" stroke-width="0.95"/><text class="g" transform="translate(270.2 352.1) scale(0.9091 1)" font-size="8.63" fill="#4D4D4D" text-anchor="end">0.000</text><path d="M275.1 323.4h-2.8" stroke="#333" stroke-width="0.95"/><text class="g" transform="translate(270.2 326.4) scale(0.9091 1)" font-size="8.63" fill="#4D4D4D" text-anchor="end">0.005</text><path d="M275.1 297.7h-2.8" stroke="#333" stroke-width="0.95"/><text class="g" transform="translate(270.2 300.7) scale(0.9091 1)" font-size="8.63" fill="#4D4D4D" text-anchor="end">0.010</text>
<rect x="387.6" y="257.8" width="82.4" height="14.6" fill="#D9D9D9" stroke="#333" stroke-width="0.75"/>
<text class="s" transform="translate(428.8 268.3) scale(0.9091 1)" font-size="8.69" fill="#1A1A1A" text-anchor="middle">778.75</text>
<rect x="387.6" y="272.4" width="82.4" height="80.3" fill="#fff"/>
<path d="M398.64 272.4V352.7" stroke="#EBEBEB" stroke-width="0.4"/><path d="M414.32 272.4V352.7" stroke="#EBEBEB" stroke-width="0.4"/><path d="M430 272.4V352.7" stroke="#EBEBEB" stroke-width="0.4"/><path d="M445.68 272.4V352.7" stroke="#EBEBEB" stroke-width="0.4"/><path d="M461.36 272.4V352.7" stroke="#EBEBEB" stroke-width="0.4"/><path d="M387.6 335.23H470" stroke="#EBEBEB" stroke-width="0.4"/><path d="M387.6 307.48H470" stroke="#EBEBEB" stroke-width="0.4"/><path d="M387.6 279.73H470" stroke="#EBEBEB" stroke-width="0.4"/><path d="M390.8 272.4V352.7" stroke="#EBEBEB" stroke-width="0.8"/><path d="M406.48 272.4V352.7" stroke="#EBEBEB" stroke-width="0.8"/><path d="M422.16 272.4V352.7" stroke="#EBEBEB" stroke-width="0.8"/><path d="M437.84 272.4V352.7" stroke="#EBEBEB" stroke-width="0.8"/><path d="M453.52 272.4V352.7" stroke="#EBEBEB" stroke-width="0.8"/><path d="M469.2 272.4V352.7" stroke="#EBEBEB" stroke-width="0.8"/><path d="M387.6 349.1H470" stroke="#EBEBEB" stroke-width="0.8"/><path d="M387.6 321.35H470" stroke="#EBEBEB" stroke-width="0.8"/><path d="M387.6 293.6H470" stroke="#EBEBEB" stroke-width="0.8"/>
<g clip-path="url(#c11)">
<path d="M443.88 276.4H463.4" stroke="#440154" stroke-width="1.25" stroke-opacity="0.85"/>
<path d="M434.6 294.48H445.8" stroke="#3E4A89" stroke-width="1.25" stroke-opacity="0.85"/>
<path d="M429.8 297.52H466.6" stroke="#31688E" stroke-width="1.25" stroke-opacity="0.85"/>
<path d="M433 301.68H455.4" stroke="#3E4A89" stroke-width="1.25" stroke-opacity="0.85"/>
<path d="M429 308.08H437.8" stroke="#3E4A89" stroke-width="1.25" stroke-opacity="0.85"/>
<path d="M391.4 316.4H398.6" stroke="#3E4A89" stroke-width="1.25" stroke-opacity="0.85"/>
<path d="M434.6 323.92H457.8" stroke="#3E4A89" stroke-width="1.25" stroke-opacity="0.85"/>
<path d="M406.6 323.92H431.4" stroke="#3E4A89" stroke-width="1.25" stroke-opacity="0.85"/>
<path d="M392.2 327.92H433" stroke="#21908C" stroke-width="1.25" stroke-opacity="0.85"/>
<path d="M410.6 331.6H434.6" stroke="#FDE725" stroke-width="1.25" stroke-opacity="0.85"/>
<path d="M394.6 333.52H426.6" stroke="#21908C" stroke-width="1.25" stroke-opacity="0.85"/>
<path d="M393.8 339.6H421.8" stroke="#21908C" stroke-width="1.25" stroke-opacity="0.85"/>
<path d="M392.2 341.2H413.8" stroke="#21908C" stroke-width="1.25" stroke-opacity="0.85"/>
<path d="M401 343.92H428.2" stroke="#FDE725" stroke-width="1.25" stroke-opacity="0.85"/>
<circle cx="453.48" cy="276.4" r="2.1" fill="#440154"/>
<circle cx="433.32" cy="285.2" r="2.1" fill="#472D7B"/>
<circle cx="440.2" cy="294.48" r="2.1" fill="#3E4A89"/>
<circle cx="448.2" cy="297.52" r="2.1" fill="#31688E"/>
<circle cx="444.52" cy="301.68" r="2.1" fill="#3E4A89"/>
<circle cx="433.8" cy="308.08" r="2.1" fill="#3E4A89"/>
<circle cx="430.12" cy="312.4" r="2.1" fill="#440154"/>
<circle cx="394.92" cy="316.4" r="2.1" fill="#3E4A89"/>
<circle cx="427.88" cy="322" r="2.1" fill="#440154"/>
<circle cx="435.4" cy="321.2" r="2.1" fill="#472D7B"/>
<circle cx="433" cy="323.28" r="2.1" fill="#472D7B"/>
<circle cx="446.28" cy="323.92" r="2.1" fill="#3E4A89"/>
<circle cx="418.6" cy="323.92" r="2.1" fill="#3E4A89"/>
<circle cx="412.2" cy="327.92" r="2.1" fill="#21908C"/>
<circle cx="403.4" cy="330.8" r="2.1" fill="#21908C"/>
<circle cx="421" cy="331.6" r="2.1" fill="#FDE725"/>
<circle cx="414.6" cy="333.52" r="2.1" fill="#21908C"/>
<circle cx="405" cy="334" r="2.1" fill="#FDE725"/>
<circle cx="408.2" cy="337.2" r="2.1" fill="#440154"/>
<circle cx="401" cy="338.48" r="2.1" fill="#472D7B"/>
<circle cx="406.6" cy="339.6" r="2.1" fill="#21908C"/>
<circle cx="397" cy="340.4" r="2.1" fill="#FDE725"/>
<circle cx="401" cy="341.2" r="2.1" fill="#21908C"/>
<circle cx="411.4" cy="343.92" r="2.1" fill="#FDE725"/>
<circle cx="397.8" cy="344.4" r="2.1" fill="#472D7B"/>
<circle cx="394.12" cy="344.4" r="2.1" fill="#21908C"/>
<circle cx="396.2" cy="345.52" r="2.1" fill="#21908C"/>
<path d="M386.9 352.55L470.7 278.4" stroke="#000" stroke-width="1.2" stroke-dasharray="3.8 3.3" fill="none"/>
<path d="M393 346.48L453 295.6" stroke="#000" stroke-width="2.3" fill="none"/>
<text class="k eq" transform="translate(428.84 331.6) scale(0.9091 1)" font-size="10.67" fill="#000" text-anchor="middle"><tspan font-style="italic">y</tspan><tspan dx="-0.88" fill="#3a3a3a" stroke="none"> =</tspan><tspan dx="-0.33"> 0.001</tspan><tspan dx="-0.22" fill="#777" stroke="none"> +</tspan><tspan dx="-1.21"> 0.7</tspan><tspan font-style="italic"> x</tspan></text>
<text class="k eq" transform="translate(428.52 348.53) scale(0.9091 1)" font-size="10.67" fill="#000" text-anchor="middle"><tspan font-style="italic">R</tspan><tspan font-size="8.03" dy="-3.3" dx="0.88">2</tspan><tspan dy="3.3" dx="0.44" fill="#3a3a3a" stroke="none"> =</tspan><tspan> 0.7</tspan></text>
</g>
<rect x="387.6" y="272.4" width="82.4" height="80.3" fill="none" stroke="#333" stroke-width="0.75"/>
<path d="M390.8 352.7v2.8" stroke="#333" stroke-width="0.95"/><text class="g" transform="translate(395.8 357.9) rotate(-90) scale(0.9091 1)" font-size="8.63" fill="#4D4D4D" text-anchor="end">0.0000</text><path d="M406.48 352.7v2.8" stroke="#333" stroke-width="0.95"/><text class="g" transform="translate(411.48 357.9) rotate(-90) scale(0.9091 1)" font-size="8.63" fill="#4D4D4D" text-anchor="end">0.0025</text><path d="M422.16 352.7v2.8" stroke="#333" stroke-width="0.95"/><text class="g" transform="translate(427.16 357.9) rotate(-90) scale(0.9091 1)" font-size="8.63" fill="#4D4D4D" text-anchor="end">0.0050</text><path d="M437.84 352.7v2.8" stroke="#333" stroke-width="0.95"/><text class="g" transform="translate(442.84 357.9) rotate(-90) scale(0.9091 1)" font-size="8.63" fill="#4D4D4D" text-anchor="end">0.0075</text><path d="M453.52 352.7v2.8" stroke="#333" stroke-width="0.95"/><text class="g" transform="translate(458.52 357.9) rotate(-90) scale(0.9091 1)" font-size="8.63" fill="#4D4D4D" text-anchor="end">0.0100</text><path d="M469.2 352.7v2.8" stroke="#333" stroke-width="0.95"/><text class="g" transform="translate(474.2 357.9) rotate(-90) scale(0.9091 1)" font-size="8.63" fill="#4D4D4D" text-anchor="end">0.0125</text><path d="M387.6 349.1h-2.8" stroke="#333" stroke-width="0.95"/><text class="g" transform="translate(382.7 352.1) scale(0.9091 1)" font-size="8.63" fill="#4D4D4D" text-anchor="end">0.000</text><path d="M387.6 321.35h-2.8" stroke="#333" stroke-width="0.95"/><text class="g" transform="translate(382.7 324.35) scale(0.9091 1)" font-size="8.63" fill="#4D4D4D" text-anchor="end">0.005</text><path d="M387.6 293.6h-2.8" stroke="#333" stroke-width="0.95"/><text class="g" transform="translate(382.7 296.6) scale(0.9091 1)" font-size="8.63" fill="#4D4D4D" text-anchor="end">0.010</text>
<rect x="46.15" y="386.95" width="82.05" height="14.25" fill="#D9D9D9" stroke="#333" stroke-width="0.75"/>
<text class="s" transform="translate(87.17 397.27) scale(0.9091 1)" font-size="8.69" fill="#1A1A1A" text-anchor="middle">865</text>
<rect x="46.15" y="401.2" width="82.05" height="79.9" fill="#fff"/>
<path d="M60.3 401.2V481.1" stroke="#EBEBEB" stroke-width="0.4"/><path d="M81.3 401.2V481.1" stroke="#EBEBEB" stroke-width="0.4"/><path d="M102.3 401.2V481.1" stroke="#EBEBEB" stroke-width="0.4"/><path d="M123.3 401.2V481.1" stroke="#EBEBEB" stroke-width="0.4"/><path d="M46.15 461.97H128.2" stroke="#EBEBEB" stroke-width="0.4"/><path d="M46.15 437.12H128.2" stroke="#EBEBEB" stroke-width="0.4"/><path d="M46.15 412.27H128.2" stroke="#EBEBEB" stroke-width="0.4"/><path d="M49.8 401.2V481.1" stroke="#EBEBEB" stroke-width="0.8"/><path d="M70.8 401.2V481.1" stroke="#EBEBEB" stroke-width="0.8"/><path d="M91.8 401.2V481.1" stroke="#EBEBEB" stroke-width="0.8"/><path d="M112.8 401.2V481.1" stroke="#EBEBEB" stroke-width="0.8"/><path d="M46.15 474.4H128.2" stroke="#EBEBEB" stroke-width="0.8"/><path d="M46.15 449.55H128.2" stroke="#EBEBEB" stroke-width="0.8"/><path d="M46.15 424.7H128.2" stroke="#EBEBEB" stroke-width="0.8"/>
<g clip-path="url(#c12)">
<path d="M74.4 405.4H80" stroke="#472D7B" stroke-width="1.25" stroke-opacity="0.85"/>
<path d="M85.6 409.72H119.2" stroke="#440154" stroke-width="1.25" stroke-opacity="0.85"/>
<path d="M74.4 424.28H88.8" stroke="#3E4A89" stroke-width="1.25" stroke-opacity="0.85"/>
<path d="M69.6 430.68H124.8" stroke="#31688E" stroke-width="1.25" stroke-opacity="0.85"/>
<path d="M76 435H114.4" stroke="#3E4A89" stroke-width="1.25" stroke-opacity="0.85"/>
<path d="M72 444.12H85.6" stroke="#3E4A89" stroke-width="1.25" stroke-opacity="0.85"/>
<path d="M50.4 455H90.4" stroke="#21908C" stroke-width="1.25" stroke-opacity="0.85"/>
<path d="M51.2 459H96.8" stroke="#3E4A89" stroke-width="1.25" stroke-opacity="0.85"/>
<path d="M60 464.6H82.4" stroke="#21908C" stroke-width="1.25" stroke-opacity="0.85"/>
<path d="M73.6 465.4H116" stroke="#3E4A89" stroke-width="1.25" stroke-opacity="0.85"/>
<path d="M52 467.48H74.4" stroke="#21908C" stroke-width="1.25" stroke-opacity="0.85"/>
<path d="M58.4 469.4H76" stroke="#FDE725" stroke-width="1.25" stroke-opacity="0.85"/>
<path d="M63.2 473.4H82.4" stroke="#FDE725" stroke-width="1.25" stroke-opacity="0.85"/>
<path d="M80 476.12H88.8" stroke="#472D7B" stroke-width="1.25" stroke-opacity="0.85"/>
<circle cx="77.12" cy="405.4" r="2.1" fill="#472D7B"/>
<circle cx="102.4" cy="409.72" r="2.1" fill="#440154"/>
<circle cx="81.6" cy="424.28" r="2.1" fill="#3E4A89"/>
<circle cx="97.6" cy="430.68" r="2.1" fill="#31688E"/>
<circle cx="94.88" cy="435" r="2.1" fill="#3E4A89"/>
<circle cx="78.88" cy="444.12" r="2.1" fill="#3E4A89"/>
<circle cx="82.4" cy="445.72" r="2.1" fill="#440154"/>
<circle cx="70.4" cy="455" r="2.1" fill="#21908C"/>
<circle cx="68.8" cy="459" r="2.1" fill="#3E4A89"/>
<circle cx="84" cy="458.52" r="2.1" fill="#440154"/>
<circle cx="81.12" cy="461.72" r="2.1" fill="#440154"/>
<circle cx="51.2" cy="463" r="2.1" fill="#3E4A89"/>
<circle cx="53.6" cy="465.4" r="2.1" fill="#FDE725"/>
<circle cx="69.92" cy="464.6" r="2.1" fill="#21908C"/>
<circle cx="60.8" cy="464.28" r="2.1" fill="#FDE725"/>
<circle cx="94.4" cy="465.4" r="2.1" fill="#3E4A89"/>
<circle cx="63.2" cy="467.48" r="2.1" fill="#21908C"/>
<circle cx="51.2" cy="467.8" r="2.1" fill="#21908C"/>
<circle cx="55.2" cy="469.4" r="2.1" fill="#FDE725"/>
<circle cx="50.4" cy="470.2" r="2.1" fill="#FDE725"/>
<circle cx="52.8" cy="471.8" r="2.1" fill="#21908C"/>
<circle cx="64.8" cy="469.4" r="2.1" fill="#FDE725"/>
<circle cx="63.2" cy="471.32" r="2.1" fill="#472D7B"/>
<circle cx="58.4" cy="472.6" r="2.1" fill="#21908C"/>
<circle cx="53.6" cy="474.2" r="2.1" fill="#472D7B"/>
<circle cx="71.2" cy="473.4" r="2.1" fill="#FDE725"/>
<circle cx="84.8" cy="476.12" r="2.1" fill="#472D7B"/>
<circle cx="57.12" cy="477.72" r="2.1" fill="#472D7B"/>
<circle cx="50.72" cy="472.92" r="2.1" fill="#B4DE2C"/>
<path d="M45.45 480.83L99.76 400.5" stroke="#000" stroke-width="1.2" stroke-dasharray="3.8 3.3" fill="none"/>
<path d="M51.2 473.4L101.6 432.6" stroke="#000" stroke-width="2.3" fill="none"/>
<text class="k eq" transform="translate(87.84 460.6) scale(0.9091 1)" font-size="10.67" fill="#000" text-anchor="middle"><tspan font-style="italic">y</tspan><tspan dx="-0.88" fill="#3a3a3a" stroke="none"> =</tspan><tspan dx="-0.33"> 0.001</tspan><tspan dx="-0.22" fill="#777" stroke="none"> +</tspan><tspan dx="-1.21"> 0.8</tspan><tspan font-style="italic"> x</tspan></text>
<text class="k eq" transform="translate(87.84 477.53) scale(0.9091 1)" font-size="10.67" fill="#000" text-anchor="middle"><tspan font-style="italic">R</tspan><tspan font-size="8.03" dy="-3.3" dx="0.88">2</tspan><tspan dy="3.3" dx="0.44" fill="#3a3a3a" stroke="none"> =</tspan><tspan> 0.44</tspan></text>
</g>
<rect x="46.15" y="401.2" width="82.05" height="79.9" fill="none" stroke="#333" stroke-width="0.75"/>
<path d="M49.8 481.1v2.8" stroke="#333" stroke-width="0.95"/><text class="g" transform="translate(54.8 486.3) rotate(-90) scale(0.9091 1)" font-size="8.63" fill="#4D4D4D" text-anchor="end">0.0000</text><path d="M70.8 481.1v2.8" stroke="#333" stroke-width="0.95"/><text class="g" transform="translate(75.8 486.3) rotate(-90) scale(0.9091 1)" font-size="8.63" fill="#4D4D4D" text-anchor="end">0.0025</text><path d="M91.8 481.1v2.8" stroke="#333" stroke-width="0.95"/><text class="g" transform="translate(96.8 486.3) rotate(-90) scale(0.9091 1)" font-size="8.63" fill="#4D4D4D" text-anchor="end">0.0050</text><path d="M112.8 481.1v2.8" stroke="#333" stroke-width="0.95"/><text class="g" transform="translate(117.8 486.3) rotate(-90) scale(0.9091 1)" font-size="8.63" fill="#4D4D4D" text-anchor="end">0.0075</text><path d="M46.15 474.4h-2.8" stroke="#333" stroke-width="0.95"/><text class="g" transform="translate(41.25 477.4) scale(0.9091 1)" font-size="8.63" fill="#4D4D4D" text-anchor="end">0.000</text><path d="M46.15 449.55h-2.8" stroke="#333" stroke-width="0.95"/><text class="g" transform="translate(41.25 452.55) scale(0.9091 1)" font-size="8.63" fill="#4D4D4D" text-anchor="end">0.002</text><path d="M46.15 424.7h-2.8" stroke="#333" stroke-width="0.95"/><text class="g" transform="translate(41.25 427.7) scale(0.9091 1)" font-size="8.63" fill="#4D4D4D" text-anchor="end">0.004</text>
<text class="k" transform="translate(14.5 250.6) rotate(-90) scale(0.9091 1)" font-size="10.73" fill="#000" text-anchor="middle">Satellite derived Rrs (sr<tspan font-size="6.71" dy="-4.7">−1</tspan><tspan dy="4.7">)</tspan></text>
<text class="k" transform="translate(258.2 522.7) scale(0.9091 1)" font-size="10.89" fill="#000" text-anchor="middle">in situ Rrs (sr<tspan font-size="6.71" dy="-4.7">−1</tspan><tspan dy="4.7">)</tspan></text>
<text class="k" transform="translate(490 18.8) scale(0.9091 1)" font-size="12.98" fill="#000">(a)</text>
<text class="k" transform="translate(484.8 213.9) scale(0.9091 1)" font-size="10.56" fill="#000">Distance_km</text>
<rect x="484.8" y="219.6" width="15.1" height="75.9" fill="url(#vir)"/>
<path d="M484.8 242.9h3M499.9 242.9h-3" stroke="#fff" stroke-width="0.5"/>
<text class="k" transform="translate(505.6 245.9) scale(0.9091 1)" font-size="8.58" fill="#000">10</text>
<path d="M484.8 269h3M499.9 269h-3" stroke="#fff" stroke-width="0.5"/>
<text class="k" transform="translate(505.6 272) scale(0.9091 1)" font-size="8.58" fill="#000">5</text>
</svg>
</body></html>
